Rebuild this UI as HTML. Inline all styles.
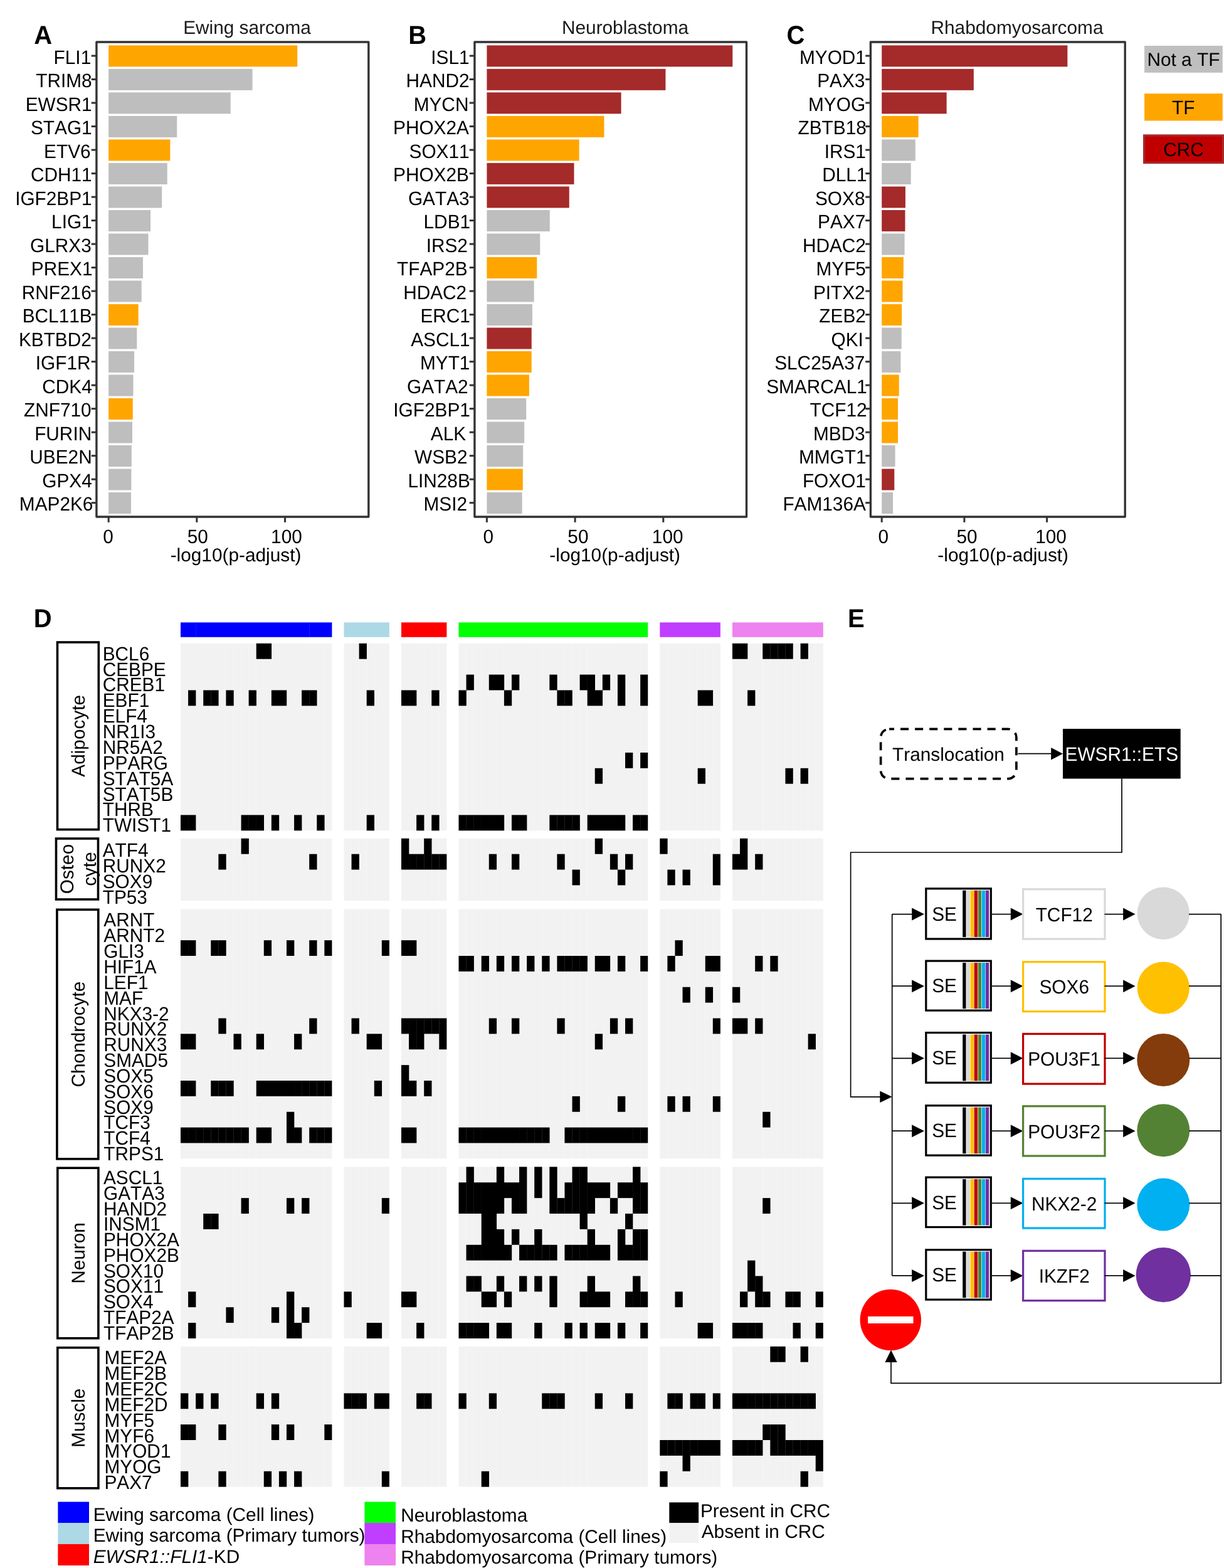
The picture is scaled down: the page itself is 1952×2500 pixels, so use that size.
<!DOCTYPE html>
<html lang="en">
<head>
<meta charset="utf-8">
<title>Figure: CRC transcription factors in Ewing sarcoma, neuroblastoma and rhabdomyosarcoma</title>
<style>
html,body{margin:0;padding:0;background:#fff;}
body{width:1952px;height:2500px;overflow:hidden;}
svg{display:block;}
svg text{font-family:'Liberation Sans', Arial, Helvetica, sans-serif;font-size:29.8px;font-kerning:none;font-variant-ligatures:none;text-rendering:geometricPrecision;}
</style>
</head>
<body>
<svg width="1952" height="2500" viewBox="0 0 1952 2500" shape-rendering="auto">
<rect width="1952" height="2500" fill="#fff"/>
<g class="panel-A">
<text transform="translate(54.2 70.3) scale(1 1.038)" style="font-size:40px" font-weight="bold">A</text>
<text x="394" y="54.3" text-anchor="middle" fill="#1a1a1a">Ewing sarcoma</text>
<rect x="173.15" y="72.35" width="301.05" height="34" fill="#ffa500"/>
<line x1="145.7" y1="89" x2="153.9" y2="89" stroke="#333" stroke-width="3"/>
<text transform="translate(145.2 101.6) scale(1 1.038)" text-anchor="end">FLI1</text>
<rect x="173.15" y="109.86" width="229.44" height="34" fill="#bebebe"/>
<line x1="145.7" y1="126.51" x2="153.9" y2="126.51" stroke="#333" stroke-width="3"/>
<text transform="translate(146.7 139.11) scale(1 1.038)" text-anchor="end">TRIM8</text>
<rect x="173.15" y="147.37" width="194.6" height="34" fill="#bebebe"/>
<line x1="145.7" y1="164.02" x2="153.9" y2="164.02" stroke="#333" stroke-width="3"/>
<text transform="translate(146.7 176.62) scale(1 1.038)" text-anchor="end">EWSR1</text>
<rect x="173.15" y="184.88" width="109.05" height="34" fill="#bebebe"/>
<line x1="145.7" y1="201.53" x2="153.9" y2="201.53" stroke="#333" stroke-width="3"/>
<text transform="translate(146.7 214.13) scale(1 1.038)" text-anchor="end">STAG1</text>
<rect x="173.15" y="222.39" width="98.21" height="34" fill="#ffa500"/>
<line x1="145.7" y1="239.04" x2="153.9" y2="239.04" stroke="#333" stroke-width="3"/>
<text transform="translate(144.6 251.64) scale(1 1.038)" text-anchor="end">ETV6</text>
<rect x="173.15" y="259.9" width="93.56" height="34" fill="#bebebe"/>
<line x1="145.7" y1="276.55" x2="153.9" y2="276.55" stroke="#333" stroke-width="3"/>
<text transform="translate(146.7 289.15) scale(1 1.038)" text-anchor="end">CDH11</text>
<rect x="173.15" y="297.41" width="85.05" height="34" fill="#bebebe"/>
<line x1="145.7" y1="314.06" x2="153.9" y2="314.06" stroke="#333" stroke-width="3"/>
<text transform="translate(146.7 326.66) scale(1 1.038)" text-anchor="end">IGF2BP1</text>
<rect x="173.15" y="334.92" width="66.85" height="34" fill="#bebebe"/>
<line x1="145.7" y1="351.57" x2="153.9" y2="351.57" stroke="#333" stroke-width="3"/>
<text transform="translate(146.7 364.17) scale(1 1.038)" text-anchor="end">LIG1</text>
<rect x="173.15" y="372.43" width="63.37" height="34" fill="#bebebe"/>
<line x1="145.7" y1="389.08" x2="153.9" y2="389.08" stroke="#333" stroke-width="3"/>
<text transform="translate(145.8 401.68) scale(1 1.038)" text-anchor="end">GLRX3</text>
<rect x="173.15" y="409.94" width="54.85" height="34" fill="#bebebe"/>
<line x1="145.7" y1="426.59" x2="153.9" y2="426.59" stroke="#333" stroke-width="3"/>
<text transform="translate(147.5 439.19) scale(1 1.038)" text-anchor="end">PREX1</text>
<rect x="173.15" y="447.45" width="52.53" height="34" fill="#bebebe"/>
<line x1="145.7" y1="464.1" x2="153.9" y2="464.1" stroke="#333" stroke-width="3"/>
<text transform="translate(145.7 476.7) scale(1 1.038)" text-anchor="end">RNF216</text>
<rect x="173.15" y="484.96" width="47.5" height="34" fill="#ffa500"/>
<line x1="145.7" y1="501.61" x2="153.9" y2="501.61" stroke="#333" stroke-width="3"/>
<text transform="translate(146.7 514.21) scale(1 1.038)" text-anchor="end">BCL11B</text>
<rect x="173.15" y="522.47" width="45.18" height="34" fill="#bebebe"/>
<line x1="145.7" y1="539.12" x2="153.9" y2="539.12" stroke="#333" stroke-width="3"/>
<text transform="translate(145.8 551.72) scale(1 1.038)" text-anchor="end">KBTBD2</text>
<rect x="173.15" y="559.98" width="40.92" height="34" fill="#bebebe"/>
<line x1="145.7" y1="576.63" x2="153.9" y2="576.63" stroke="#333" stroke-width="3"/>
<text transform="translate(144.5 589.23) scale(1 1.038)" text-anchor="end">IGF1R</text>
<rect x="173.15" y="597.49" width="39.37" height="34" fill="#bebebe"/>
<line x1="145.7" y1="614.14" x2="153.9" y2="614.14" stroke="#333" stroke-width="3"/>
<text transform="translate(146.7 626.74) scale(1 1.038)" text-anchor="end">CDK4</text>
<rect x="173.15" y="635" width="38.59" height="34" fill="#ffa500"/>
<line x1="145.7" y1="651.65" x2="153.9" y2="651.65" stroke="#333" stroke-width="3"/>
<text transform="translate(145.6 664.25) scale(1 1.038)" text-anchor="end">ZNF710</text>
<rect x="173.15" y="672.51" width="37.82" height="34" fill="#bebebe"/>
<line x1="145.7" y1="689.16" x2="153.9" y2="689.16" stroke="#333" stroke-width="3"/>
<text transform="translate(146.2 701.76) scale(1 1.038)" text-anchor="end">FURIN</text>
<rect x="173.15" y="710.02" width="36.66" height="34" fill="#bebebe"/>
<line x1="145.7" y1="726.67" x2="153.9" y2="726.67" stroke="#333" stroke-width="3"/>
<text transform="translate(146.7 739.27) scale(1 1.038)" text-anchor="end">UBE2N</text>
<rect x="173.15" y="747.53" width="36.27" height="34" fill="#bebebe"/>
<line x1="145.7" y1="764.18" x2="153.9" y2="764.18" stroke="#333" stroke-width="3"/>
<text transform="translate(146.7 776.78) scale(1 1.038)" text-anchor="end">GPX4</text>
<rect x="173.15" y="785.04" width="35.88" height="34" fill="#bebebe"/>
<line x1="145.7" y1="801.69" x2="153.9" y2="801.69" stroke="#333" stroke-width="3"/>
<text transform="translate(148.4 814.29) scale(1 1.038)" text-anchor="end">MAP2K6</text>
<rect x="153.9" y="67" width="433.9" height="757" fill="none" stroke="#333" stroke-width="3.4" stroke-linejoin="round"/>
<line x1="173.15" y1="824" x2="173.15" y2="832.8" stroke="#333" stroke-width="3"/>
<text transform="translate(172.65 865.5) scale(1 1.038)" text-anchor="middle">0</text>
<line x1="313.85" y1="824" x2="313.85" y2="832.8" stroke="#333" stroke-width="3"/>
<text transform="translate(315.25 865.5) scale(1 1.038)" text-anchor="middle">50</text>
<line x1="454.55" y1="824" x2="454.55" y2="832.8" stroke="#333" stroke-width="3"/>
<text transform="translate(456.95 865.5) scale(1 1.038)" text-anchor="middle">100</text>
<text x="376" y="895" text-anchor="middle">-log10(p-adjust)</text>
</g>
<g class="panel-B">
<text transform="translate(651.3 70.3) scale(1 1.038)" style="font-size:40px" font-weight="bold">B</text>
<text x="997" y="54.3" text-anchor="middle" fill="#1a1a1a">Neuroblastoma</text>
<rect x="776.4" y="72.35" width="391.87" height="34" fill="#a52a2a"/>
<line x1="748.7" y1="89" x2="756.9" y2="89" stroke="#333" stroke-width="3"/>
<text transform="translate(748.6 101.6) scale(1 1.038)" text-anchor="end">ISL1</text>
<rect x="776.4" y="109.86" width="285.03" height="34" fill="#a52a2a"/>
<line x1="748.7" y1="126.51" x2="756.9" y2="126.51" stroke="#333" stroke-width="3"/>
<text transform="translate(748.6 139.11) scale(1 1.038)" text-anchor="end">HAND2</text>
<rect x="776.4" y="147.37" width="214.19" height="34" fill="#a52a2a"/>
<line x1="748.7" y1="164.02" x2="756.9" y2="164.02" stroke="#333" stroke-width="3"/>
<text transform="translate(747.4 176.62) scale(1 1.038)" text-anchor="end">MYCN</text>
<rect x="776.4" y="184.88" width="187.09" height="34" fill="#ffa500"/>
<line x1="748.7" y1="201.53" x2="756.9" y2="201.53" stroke="#333" stroke-width="3"/>
<text transform="translate(747.9 214.13) scale(1 1.038)" text-anchor="end">PHOX2A</text>
<rect x="776.4" y="222.39" width="147.22" height="34" fill="#ffa500"/>
<line x1="748.7" y1="239.04" x2="756.9" y2="239.04" stroke="#333" stroke-width="3"/>
<text transform="translate(748.6 251.64) scale(1 1.038)" text-anchor="end">SOX11</text>
<rect x="776.4" y="259.9" width="139.09" height="34" fill="#a52a2a"/>
<line x1="748.7" y1="276.55" x2="756.9" y2="276.55" stroke="#333" stroke-width="3"/>
<text transform="translate(747.9 289.15) scale(1 1.038)" text-anchor="end">PHOX2B</text>
<rect x="776.4" y="297.41" width="131.35" height="34" fill="#a52a2a"/>
<line x1="748.7" y1="314.06" x2="756.9" y2="314.06" stroke="#333" stroke-width="3"/>
<text transform="translate(748.6 326.66) scale(1 1.038)" text-anchor="end">GATA3</text>
<rect x="776.4" y="334.92" width="100.38" height="34" fill="#bebebe"/>
<line x1="748.7" y1="351.57" x2="756.9" y2="351.57" stroke="#333" stroke-width="3"/>
<text transform="translate(750.1 364.17) scale(1 1.038)" text-anchor="end">LDB1</text>
<rect x="776.4" y="372.43" width="84.89" height="34" fill="#bebebe"/>
<line x1="748.7" y1="389.08" x2="756.9" y2="389.08" stroke="#333" stroke-width="3"/>
<text transform="translate(745.9 401.68) scale(1 1.038)" text-anchor="end">IRS2</text>
<rect x="776.4" y="409.94" width="79.86" height="34" fill="#ffa500"/>
<line x1="748.7" y1="426.59" x2="756.9" y2="426.59" stroke="#333" stroke-width="3"/>
<text transform="translate(745.7 439.19) scale(1 1.038)" text-anchor="end">TFAP2B</text>
<rect x="776.4" y="447.45" width="75.22" height="34" fill="#bebebe"/>
<line x1="748.7" y1="464.1" x2="756.9" y2="464.1" stroke="#333" stroke-width="3"/>
<text transform="translate(744.2 476.7) scale(1 1.038)" text-anchor="end">HDAC2</text>
<rect x="776.4" y="484.96" width="72.51" height="34" fill="#bebebe"/>
<line x1="748.7" y1="501.61" x2="756.9" y2="501.61" stroke="#333" stroke-width="3"/>
<text transform="translate(749.9 514.21) scale(1 1.038)" text-anchor="end">ERC1</text>
<rect x="776.4" y="522.47" width="71.35" height="34" fill="#a52a2a"/>
<line x1="748.7" y1="539.12" x2="756.9" y2="539.12" stroke="#333" stroke-width="3"/>
<text transform="translate(749.6 551.72) scale(1 1.038)" text-anchor="end">ASCL1</text>
<rect x="776.4" y="559.98" width="71.35" height="34" fill="#ffa500"/>
<line x1="748.7" y1="576.63" x2="756.9" y2="576.63" stroke="#333" stroke-width="3"/>
<text transform="translate(749.4 589.23) scale(1 1.038)" text-anchor="end">MYT1</text>
<rect x="776.4" y="597.49" width="67.47" height="34" fill="#ffa500"/>
<line x1="748.7" y1="614.14" x2="756.9" y2="614.14" stroke="#333" stroke-width="3"/>
<text transform="translate(746.7 626.74) scale(1 1.038)" text-anchor="end">GATA2</text>
<rect x="776.4" y="635" width="62.83" height="34" fill="#bebebe"/>
<line x1="748.7" y1="651.65" x2="756.9" y2="651.65" stroke="#333" stroke-width="3"/>
<text transform="translate(749.9 664.25) scale(1 1.038)" text-anchor="end">IGF2BP1</text>
<rect x="776.4" y="672.51" width="59.73" height="34" fill="#bebebe"/>
<line x1="748.7" y1="689.16" x2="756.9" y2="689.16" stroke="#333" stroke-width="3"/>
<text transform="translate(743.2 701.76) scale(1 1.038)" text-anchor="end">ALK</text>
<rect x="776.4" y="710.02" width="57.8" height="34" fill="#bebebe"/>
<line x1="748.7" y1="726.67" x2="756.9" y2="726.67" stroke="#333" stroke-width="3"/>
<text transform="translate(745.5 739.27) scale(1 1.038)" text-anchor="end">WSB2</text>
<rect x="776.4" y="747.53" width="57.41" height="34" fill="#ffa500"/>
<line x1="748.7" y1="764.18" x2="756.9" y2="764.18" stroke="#333" stroke-width="3"/>
<text transform="translate(749.8 776.78) scale(1 1.038)" text-anchor="end">LIN28B</text>
<rect x="776.4" y="785.04" width="56.25" height="34" fill="#bebebe"/>
<line x1="748.7" y1="801.69" x2="756.9" y2="801.69" stroke="#333" stroke-width="3"/>
<text transform="translate(745.1 814.29) scale(1 1.038)" text-anchor="end">MSI2</text>
<rect x="756.9" y="67" width="433.6" height="757" fill="none" stroke="#333" stroke-width="3.4" stroke-linejoin="round"/>
<line x1="776.4" y1="824" x2="776.4" y2="832.8" stroke="#333" stroke-width="3"/>
<text transform="translate(778.7 865.5) scale(1 1.038)" text-anchor="middle">0</text>
<line x1="917.1" y1="824" x2="917.1" y2="832.8" stroke="#333" stroke-width="3"/>
<text transform="translate(921.9 865.5) scale(1 1.038)" text-anchor="middle">50</text>
<line x1="1057.8" y1="824" x2="1057.8" y2="832.8" stroke="#333" stroke-width="3"/>
<text transform="translate(1064.7 865.5) scale(1 1.038)" text-anchor="middle">100</text>
<text x="980.7" y="895" text-anchor="middle">-log10(p-adjust)</text>
</g>
<g class="panel-C">
<text transform="translate(1254.5 70.3) scale(1 1.038)" style="font-size:40px" font-weight="bold">C</text>
<text x="1622" y="54.3" text-anchor="middle" fill="#1a1a1a">Rhabdomyosarcoma</text>
<rect x="1406.2" y="72.35" width="296.16" height="34" fill="#a52a2a"/>
<line x1="1380.2" y1="89" x2="1388.4" y2="89" stroke="#333" stroke-width="3"/>
<text transform="translate(1380.9 101.6) scale(1 1.038)" text-anchor="end">MYOD1</text>
<rect x="1406.2" y="109.86" width="146.64" height="34" fill="#a52a2a"/>
<line x1="1380.2" y1="126.51" x2="1388.4" y2="126.51" stroke="#333" stroke-width="3"/>
<text transform="translate(1379.4 139.11) scale(1 1.038)" text-anchor="end">PAX3</text>
<rect x="1406.2" y="147.37" width="103.42" height="34" fill="#a52a2a"/>
<line x1="1380.2" y1="164.02" x2="1388.4" y2="164.02" stroke="#333" stroke-width="3"/>
<text transform="translate(1380.1 176.62) scale(1 1.038)" text-anchor="end">MYOG</text>
<rect x="1406.2" y="184.88" width="58.43" height="34" fill="#ffa500"/>
<line x1="1380.2" y1="201.53" x2="1388.4" y2="201.53" stroke="#333" stroke-width="3"/>
<text transform="translate(1381.8 214.13) scale(1 1.038)" text-anchor="end">ZBTB18</text>
<rect x="1406.2" y="222.39" width="53.58" height="34" fill="#bebebe"/>
<line x1="1380.2" y1="239.04" x2="1388.4" y2="239.04" stroke="#333" stroke-width="3"/>
<text transform="translate(1380.9 251.64) scale(1 1.038)" text-anchor="end">IRS1</text>
<rect x="1406.2" y="259.9" width="46.52" height="34" fill="#bebebe"/>
<line x1="1380.2" y1="276.55" x2="1388.4" y2="276.55" stroke="#333" stroke-width="3"/>
<text transform="translate(1382.5 289.15) scale(1 1.038)" text-anchor="end">DLL1</text>
<rect x="1406.2" y="297.41" width="37.7" height="34" fill="#a52a2a"/>
<line x1="1380.2" y1="314.06" x2="1388.4" y2="314.06" stroke="#333" stroke-width="3"/>
<text transform="translate(1379.5 326.66) scale(1 1.038)" text-anchor="end">SOX8</text>
<rect x="1406.2" y="334.92" width="37.26" height="34" fill="#a52a2a"/>
<line x1="1380.2" y1="351.57" x2="1388.4" y2="351.57" stroke="#333" stroke-width="3"/>
<text transform="translate(1380.3 364.17) scale(1 1.038)" text-anchor="end">PAX7</text>
<rect x="1406.2" y="372.43" width="36.38" height="34" fill="#bebebe"/>
<line x1="1380.2" y1="389.08" x2="1388.4" y2="389.08" stroke="#333" stroke-width="3"/>
<text transform="translate(1380.9 401.68) scale(1 1.038)" text-anchor="end">HDAC2</text>
<rect x="1406.2" y="409.94" width="34.62" height="34" fill="#ffa500"/>
<line x1="1380.2" y1="426.59" x2="1388.4" y2="426.59" stroke="#333" stroke-width="3"/>
<text transform="translate(1380.9 439.19) scale(1 1.038)" text-anchor="end">MYF5</text>
<rect x="1406.2" y="447.45" width="33.29" height="34" fill="#ffa500"/>
<line x1="1380.2" y1="464.1" x2="1388.4" y2="464.1" stroke="#333" stroke-width="3"/>
<text transform="translate(1379.7 476.7) scale(1 1.038)" text-anchor="end">PITX2</text>
<rect x="1406.2" y="484.96" width="31.97" height="34" fill="#ffa500"/>
<line x1="1380.2" y1="501.61" x2="1388.4" y2="501.61" stroke="#333" stroke-width="3"/>
<text transform="translate(1380.9 514.21) scale(1 1.038)" text-anchor="end">ZEB2</text>
<rect x="1406.2" y="522.47" width="31.53" height="34" fill="#bebebe"/>
<line x1="1380.2" y1="539.12" x2="1388.4" y2="539.12" stroke="#333" stroke-width="3"/>
<text transform="translate(1376.9 551.72) scale(1 1.038)" text-anchor="end">QKI</text>
<rect x="1406.2" y="559.98" width="30.2" height="34" fill="#bebebe"/>
<line x1="1380.2" y1="576.63" x2="1388.4" y2="576.63" stroke="#333" stroke-width="3"/>
<text transform="translate(1379.3 589.23) scale(1 1.038)" text-anchor="end">SLC25A37</text>
<rect x="1406.2" y="597.49" width="27.56" height="34" fill="#ffa500"/>
<line x1="1380.2" y1="614.14" x2="1388.4" y2="614.14" stroke="#333" stroke-width="3"/>
<text transform="translate(1382.8 626.74) scale(1 1.038)" text-anchor="end">SMARCAL1</text>
<rect x="1406.2" y="635" width="25.79" height="34" fill="#ffa500"/>
<line x1="1380.2" y1="651.65" x2="1388.4" y2="651.65" stroke="#333" stroke-width="3"/>
<text transform="translate(1382.7 664.25) scale(1 1.038)" text-anchor="end">TCF12</text>
<rect x="1406.2" y="672.51" width="25.79" height="34" fill="#ffa500"/>
<line x1="1380.2" y1="689.16" x2="1388.4" y2="689.16" stroke="#333" stroke-width="3"/>
<text transform="translate(1379.7 701.76) scale(1 1.038)" text-anchor="end">MBD3</text>
<rect x="1406.2" y="710.02" width="21.38" height="34" fill="#bebebe"/>
<line x1="1380.2" y1="726.67" x2="1388.4" y2="726.67" stroke="#333" stroke-width="3"/>
<text transform="translate(1381.5 739.27) scale(1 1.038)" text-anchor="end">MMGT1</text>
<rect x="1406.2" y="747.53" width="20.06" height="34" fill="#a52a2a"/>
<line x1="1380.2" y1="764.18" x2="1388.4" y2="764.18" stroke="#333" stroke-width="3"/>
<text transform="translate(1380.9 776.78) scale(1 1.038)" text-anchor="end">FOXO1</text>
<rect x="1406.2" y="785.04" width="17.86" height="34" fill="#bebebe"/>
<line x1="1380.2" y1="801.69" x2="1388.4" y2="801.69" stroke="#333" stroke-width="3"/>
<text transform="translate(1380.9 814.29) scale(1 1.038)" text-anchor="end">FAM136A</text>
<rect x="1388.4" y="67" width="405.8" height="757" fill="none" stroke="#333" stroke-width="3.4" stroke-linejoin="round"/>
<line x1="1406.2" y1="824" x2="1406.2" y2="832.8" stroke="#333" stroke-width="3"/>
<text transform="translate(1408.7 865.5) scale(1 1.038)" text-anchor="middle">0</text>
<line x1="1537.9" y1="824" x2="1537.9" y2="832.8" stroke="#333" stroke-width="3"/>
<text transform="translate(1542.1 865.5) scale(1 1.038)" text-anchor="middle">50</text>
<line x1="1669.6" y1="824" x2="1669.6" y2="832.8" stroke="#333" stroke-width="3"/>
<text transform="translate(1676 865.5) scale(1 1.038)" text-anchor="middle">100</text>
<text x="1599.7" y="895" text-anchor="middle">-log10(p-adjust)</text>
</g>
<g class="legend-tf">
<rect x="1825.07" y="72.96" width="124.7" height="42.84" fill="#bfbfbf"/>
<text x="1887.4" y="105.3" text-anchor="middle">Not a TF</text>
<rect x="1825.07" y="149.2" width="124.7" height="43.3" fill="#ffa500"/>
<text transform="translate(1887.2 181.85) scale(1 1.038)" text-anchor="middle">TF</text>
<rect x="1824.6" y="215.9" width="125.8" height="43.6" fill="#c00000" stroke="#a52a2a" stroke-width="3.2"/>
<text transform="translate(1887.6 249) scale(1 1.038)" text-anchor="middle">CRC</text>
</g>
<g class="heatmap">
<text transform="translate(53.8 1000.4) scale(1 1.038)" style="font-size:40px" font-weight="bold">D</text>
<rect x="288" y="992.4" width="24.39" height="23.4" fill="#0000ff"/>
<rect x="312.14" y="992.4" width="181.3" height="23.4" fill="#0000ff"/>
<rect x="493.19" y="992.4" width="36.21" height="23.4" fill="#0000ff"/>
<rect x="548.48" y="992.4" width="72.42" height="23.4" fill="#add8e6"/>
<rect x="639.98" y="992.4" width="72.42" height="23.4" fill="#ff0000"/>
<rect x="731.48" y="992.4" width="253.72" height="23.4" fill="#00ff00"/>
<rect x="984.95" y="992.4" width="48.28" height="23.4" fill="#00ff00"/>
<rect x="1052.31" y="992.4" width="72.67" height="23.4" fill="#bf3eff"/>
<rect x="1124.73" y="992.4" width="24.14" height="23.4" fill="#bf3eff"/>
<rect x="1167.95" y="992.4" width="133.02" height="23.4" fill="#ee82ee"/>
<rect x="1300.72" y="992.4" width="12.07" height="23.4" fill="#ee82ee"/>
<rect x="288" y="1025.85" width="12.07" height="298.44" fill="#f2f2f2"/>
<rect x="300.07" y="1025.85" width="12.07" height="298.44" fill="#f2f2f2"/>
<rect x="312.14" y="1025.85" width="12.07" height="298.44" fill="#f2f2f2"/>
<rect x="324.21" y="1025.85" width="12.07" height="298.44" fill="#f2f2f2"/>
<rect x="336.28" y="1025.85" width="12.07" height="298.44" fill="#f2f2f2"/>
<rect x="348.35" y="1025.85" width="12.07" height="298.44" fill="#f2f2f2"/>
<rect x="360.42" y="1025.85" width="12.07" height="298.44" fill="#f2f2f2"/>
<rect x="372.49" y="1025.85" width="12.07" height="298.44" fill="#f2f2f2"/>
<rect x="384.56" y="1025.85" width="12.07" height="298.44" fill="#f2f2f2"/>
<rect x="396.63" y="1025.85" width="12.07" height="298.44" fill="#f2f2f2"/>
<rect x="408.7" y="1025.85" width="12.07" height="298.44" fill="#f2f2f2"/>
<rect x="420.77" y="1025.85" width="12.07" height="298.44" fill="#f2f2f2"/>
<rect x="432.84" y="1025.85" width="12.07" height="298.44" fill="#f2f2f2"/>
<rect x="444.91" y="1025.85" width="12.07" height="298.44" fill="#f2f2f2"/>
<rect x="456.98" y="1025.85" width="12.07" height="298.44" fill="#f2f2f2"/>
<rect x="469.05" y="1025.85" width="12.07" height="298.44" fill="#f2f2f2"/>
<rect x="481.12" y="1025.85" width="12.07" height="298.44" fill="#f2f2f2"/>
<rect x="493.19" y="1025.85" width="12.07" height="298.44" fill="#f2f2f2"/>
<rect x="505.26" y="1025.85" width="12.07" height="298.44" fill="#f2f2f2"/>
<rect x="517.33" y="1025.85" width="12.07" height="298.44" fill="#f2f2f2"/>
<rect x="548.48" y="1025.85" width="12.07" height="298.44" fill="#f2f2f2"/>
<rect x="560.55" y="1025.85" width="12.07" height="298.44" fill="#f2f2f2"/>
<rect x="572.62" y="1025.85" width="12.07" height="298.44" fill="#f2f2f2"/>
<rect x="584.69" y="1025.85" width="12.07" height="298.44" fill="#f2f2f2"/>
<rect x="596.76" y="1025.85" width="12.07" height="298.44" fill="#f2f2f2"/>
<rect x="608.83" y="1025.85" width="12.07" height="298.44" fill="#f2f2f2"/>
<rect x="639.98" y="1025.85" width="12.07" height="298.44" fill="#f2f2f2"/>
<rect x="652.05" y="1025.85" width="12.07" height="298.44" fill="#f2f2f2"/>
<rect x="664.12" y="1025.85" width="12.07" height="298.44" fill="#f2f2f2"/>
<rect x="676.19" y="1025.85" width="12.07" height="298.44" fill="#f2f2f2"/>
<rect x="688.26" y="1025.85" width="12.07" height="298.44" fill="#f2f2f2"/>
<rect x="700.33" y="1025.85" width="12.07" height="298.44" fill="#f2f2f2"/>
<rect x="731.48" y="1025.85" width="12.07" height="298.44" fill="#f2f2f2"/>
<rect x="743.55" y="1025.85" width="12.07" height="298.44" fill="#f2f2f2"/>
<rect x="755.62" y="1025.85" width="12.07" height="298.44" fill="#f2f2f2"/>
<rect x="767.69" y="1025.85" width="12.07" height="298.44" fill="#f2f2f2"/>
<rect x="779.76" y="1025.85" width="12.07" height="298.44" fill="#f2f2f2"/>
<rect x="791.83" y="1025.85" width="12.07" height="298.44" fill="#f2f2f2"/>
<rect x="803.9" y="1025.85" width="12.07" height="298.44" fill="#f2f2f2"/>
<rect x="815.97" y="1025.85" width="12.07" height="298.44" fill="#f2f2f2"/>
<rect x="828.04" y="1025.85" width="12.07" height="298.44" fill="#f2f2f2"/>
<rect x="840.11" y="1025.85" width="12.07" height="298.44" fill="#f2f2f2"/>
<rect x="852.18" y="1025.85" width="12.07" height="298.44" fill="#f2f2f2"/>
<rect x="864.25" y="1025.85" width="12.07" height="298.44" fill="#f2f2f2"/>
<rect x="876.32" y="1025.85" width="12.07" height="298.44" fill="#f2f2f2"/>
<rect x="888.39" y="1025.85" width="12.07" height="298.44" fill="#f2f2f2"/>
<rect x="900.46" y="1025.85" width="12.07" height="298.44" fill="#f2f2f2"/>
<rect x="912.53" y="1025.85" width="12.07" height="298.44" fill="#f2f2f2"/>
<rect x="924.6" y="1025.85" width="12.07" height="298.44" fill="#f2f2f2"/>
<rect x="936.67" y="1025.85" width="12.07" height="298.44" fill="#f2f2f2"/>
<rect x="948.74" y="1025.85" width="12.07" height="298.44" fill="#f2f2f2"/>
<rect x="960.81" y="1025.85" width="12.07" height="298.44" fill="#f2f2f2"/>
<rect x="972.88" y="1025.85" width="12.07" height="298.44" fill="#f2f2f2"/>
<rect x="984.95" y="1025.85" width="12.07" height="298.44" fill="#f2f2f2"/>
<rect x="997.02" y="1025.85" width="12.07" height="298.44" fill="#f2f2f2"/>
<rect x="1009.09" y="1025.85" width="12.07" height="298.44" fill="#f2f2f2"/>
<rect x="1021.16" y="1025.85" width="12.07" height="298.44" fill="#f2f2f2"/>
<rect x="1052.31" y="1025.85" width="12.07" height="298.44" fill="#f2f2f2"/>
<rect x="1064.38" y="1025.85" width="12.07" height="298.44" fill="#f2f2f2"/>
<rect x="1076.45" y="1025.85" width="12.07" height="298.44" fill="#f2f2f2"/>
<rect x="1088.52" y="1025.85" width="12.07" height="298.44" fill="#f2f2f2"/>
<rect x="1100.59" y="1025.85" width="12.07" height="298.44" fill="#f2f2f2"/>
<rect x="1112.66" y="1025.85" width="12.07" height="298.44" fill="#f2f2f2"/>
<rect x="1124.73" y="1025.85" width="12.07" height="298.44" fill="#f2f2f2"/>
<rect x="1136.8" y="1025.85" width="12.07" height="298.44" fill="#f2f2f2"/>
<rect x="1167.95" y="1025.85" width="12.07" height="298.44" fill="#f2f2f2"/>
<rect x="1180.02" y="1025.85" width="12.07" height="298.44" fill="#f2f2f2"/>
<rect x="1192.09" y="1025.85" width="12.07" height="298.44" fill="#f2f2f2"/>
<rect x="1204.16" y="1025.85" width="12.07" height="298.44" fill="#f2f2f2"/>
<rect x="1216.23" y="1025.85" width="12.07" height="298.44" fill="#f2f2f2"/>
<rect x="1228.3" y="1025.85" width="12.07" height="298.44" fill="#f2f2f2"/>
<rect x="1240.37" y="1025.85" width="12.07" height="298.44" fill="#f2f2f2"/>
<rect x="1252.44" y="1025.85" width="12.07" height="298.44" fill="#f2f2f2"/>
<rect x="1264.51" y="1025.85" width="12.07" height="298.44" fill="#f2f2f2"/>
<rect x="1276.58" y="1025.85" width="12.07" height="298.44" fill="#f2f2f2"/>
<rect x="1288.65" y="1025.85" width="12.07" height="298.44" fill="#f2f2f2"/>
<rect x="1300.72" y="1025.85" width="12.07" height="298.44" fill="#f2f2f2"/>
<rect x="288" y="1299.42" width="12.32" height="24.87" fill="#000"/>
<rect x="300.07" y="1100.46" width="12.32" height="24.87" fill="#000"/>
<rect x="300.07" y="1299.42" width="12.32" height="24.87" fill="#000"/>
<rect x="324.21" y="1100.46" width="12.32" height="24.87" fill="#000"/>
<rect x="336.28" y="1100.46" width="12.32" height="24.87" fill="#000"/>
<rect x="360.42" y="1100.46" width="12.32" height="24.87" fill="#000"/>
<rect x="384.56" y="1299.42" width="12.32" height="24.87" fill="#000"/>
<rect x="396.63" y="1100.46" width="12.32" height="24.87" fill="#000"/>
<rect x="396.63" y="1299.42" width="12.32" height="24.87" fill="#000"/>
<rect x="408.7" y="1025.85" width="12.32" height="24.87" fill="#000"/>
<rect x="408.7" y="1299.42" width="12.32" height="24.87" fill="#000"/>
<rect x="420.77" y="1025.85" width="12.32" height="24.87" fill="#000"/>
<rect x="432.84" y="1100.46" width="12.32" height="24.87" fill="#000"/>
<rect x="432.84" y="1299.42" width="12.32" height="24.87" fill="#000"/>
<rect x="444.91" y="1100.46" width="12.32" height="24.87" fill="#000"/>
<rect x="469.05" y="1299.42" width="12.32" height="24.87" fill="#000"/>
<rect x="481.12" y="1100.46" width="12.32" height="24.87" fill="#000"/>
<rect x="493.19" y="1100.46" width="12.32" height="24.87" fill="#000"/>
<rect x="505.26" y="1299.42" width="12.32" height="24.87" fill="#000"/>
<rect x="572.62" y="1025.85" width="12.32" height="24.87" fill="#000"/>
<rect x="584.69" y="1100.46" width="12.32" height="24.87" fill="#000"/>
<rect x="584.69" y="1299.42" width="12.32" height="24.87" fill="#000"/>
<rect x="639.98" y="1100.46" width="12.32" height="24.87" fill="#000"/>
<rect x="652.05" y="1100.46" width="12.32" height="24.87" fill="#000"/>
<rect x="664.12" y="1299.42" width="12.32" height="24.87" fill="#000"/>
<rect x="688.26" y="1100.46" width="12.32" height="24.87" fill="#000"/>
<rect x="688.26" y="1299.42" width="12.32" height="24.87" fill="#000"/>
<rect x="731.48" y="1100.46" width="12.32" height="24.87" fill="#000"/>
<rect x="731.48" y="1299.42" width="12.32" height="24.87" fill="#000"/>
<rect x="743.55" y="1075.59" width="12.32" height="24.87" fill="#000"/>
<rect x="743.55" y="1299.42" width="12.32" height="24.87" fill="#000"/>
<rect x="755.62" y="1299.42" width="12.32" height="24.87" fill="#000"/>
<rect x="767.69" y="1299.42" width="12.32" height="24.87" fill="#000"/>
<rect x="779.76" y="1075.59" width="12.32" height="24.87" fill="#000"/>
<rect x="779.76" y="1299.42" width="12.32" height="24.87" fill="#000"/>
<rect x="791.83" y="1075.59" width="12.32" height="24.87" fill="#000"/>
<rect x="791.83" y="1299.42" width="12.32" height="24.87" fill="#000"/>
<rect x="803.9" y="1100.46" width="12.32" height="24.87" fill="#000"/>
<rect x="815.97" y="1075.59" width="12.32" height="24.87" fill="#000"/>
<rect x="815.97" y="1299.42" width="12.32" height="24.87" fill="#000"/>
<rect x="828.04" y="1299.42" width="12.32" height="24.87" fill="#000"/>
<rect x="876.32" y="1075.59" width="12.32" height="24.87" fill="#000"/>
<rect x="876.32" y="1299.42" width="12.32" height="24.87" fill="#000"/>
<rect x="888.39" y="1100.46" width="12.32" height="24.87" fill="#000"/>
<rect x="888.39" y="1299.42" width="12.32" height="24.87" fill="#000"/>
<rect x="900.46" y="1100.46" width="12.32" height="24.87" fill="#000"/>
<rect x="900.46" y="1299.42" width="12.32" height="24.87" fill="#000"/>
<rect x="912.53" y="1299.42" width="12.32" height="24.87" fill="#000"/>
<rect x="924.6" y="1075.59" width="12.32" height="24.87" fill="#000"/>
<rect x="936.67" y="1075.59" width="12.32" height="49.74" fill="#000"/>
<rect x="936.67" y="1299.42" width="12.32" height="24.87" fill="#000"/>
<rect x="948.74" y="1100.46" width="12.32" height="24.87" fill="#000"/>
<rect x="948.74" y="1224.81" width="12.32" height="24.87" fill="#000"/>
<rect x="948.74" y="1299.42" width="12.32" height="24.87" fill="#000"/>
<rect x="960.81" y="1075.59" width="12.32" height="24.87" fill="#000"/>
<rect x="960.81" y="1299.42" width="12.32" height="24.87" fill="#000"/>
<rect x="972.88" y="1299.42" width="12.32" height="24.87" fill="#000"/>
<rect x="984.95" y="1075.59" width="12.32" height="49.74" fill="#000"/>
<rect x="984.95" y="1299.42" width="12.32" height="24.87" fill="#000"/>
<rect x="997.02" y="1199.94" width="12.32" height="24.87" fill="#000"/>
<rect x="1009.09" y="1299.42" width="12.32" height="24.87" fill="#000"/>
<rect x="1021.16" y="1075.59" width="12.07" height="49.74" fill="#000"/>
<rect x="1021.16" y="1199.94" width="12.07" height="24.87" fill="#000"/>
<rect x="1021.16" y="1299.42" width="12.07" height="24.87" fill="#000"/>
<rect x="1112.66" y="1100.46" width="12.32" height="24.87" fill="#000"/>
<rect x="1112.66" y="1224.81" width="12.32" height="24.87" fill="#000"/>
<rect x="1124.73" y="1100.46" width="12.32" height="24.87" fill="#000"/>
<rect x="1167.95" y="1025.85" width="12.32" height="24.87" fill="#000"/>
<rect x="1180.02" y="1025.85" width="12.32" height="24.87" fill="#000"/>
<rect x="1192.09" y="1100.46" width="12.32" height="24.87" fill="#000"/>
<rect x="1216.23" y="1025.85" width="12.32" height="24.87" fill="#000"/>
<rect x="1228.3" y="1025.85" width="12.32" height="24.87" fill="#000"/>
<rect x="1240.37" y="1025.85" width="12.32" height="24.87" fill="#000"/>
<rect x="1252.44" y="1025.85" width="12.32" height="24.87" fill="#000"/>
<rect x="1252.44" y="1224.81" width="12.32" height="24.87" fill="#000"/>
<rect x="1276.58" y="1025.85" width="12.32" height="24.87" fill="#000"/>
<rect x="1276.58" y="1224.81" width="12.32" height="24.87" fill="#000"/>
<text transform="translate(163.7 1052.7) scale(1 1.038)">BCL6</text>
<text transform="translate(163.7 1077.57) scale(1 1.038)">CEBPE</text>
<text transform="translate(163.7 1102.44) scale(1 1.038)">CREB1</text>
<text transform="translate(163.7 1127.31) scale(1 1.038)">EBF1</text>
<text transform="translate(163.7 1152.18) scale(1 1.038)">ELF4</text>
<text transform="translate(163.7 1177.05) scale(1 1.038)">NR1I3</text>
<text transform="translate(163.7 1201.92) scale(1 1.038)">NR5A2</text>
<text transform="translate(163.7 1226.79) scale(1 1.038)">PPARG</text>
<text transform="translate(163.7 1251.66) scale(1 1.038)">STAT5A</text>
<text transform="translate(163.7 1276.53) scale(1 1.038)">STAT5B</text>
<text transform="translate(163.7 1301.4) scale(1 1.038)">THRB</text>
<text transform="translate(163.7 1326.27) scale(1 1.038)">TWIST1</text>
<rect x="91.5" y="1024" width="65.8" height="298.6" fill="none" stroke="#000" stroke-width="3.6"/>
<text transform="translate(135 1173.3) rotate(-90)" text-anchor="middle">Adipocyte</text>
<rect x="288" y="1336.8" width="12.07" height="99.48" fill="#f2f2f2"/>
<rect x="300.07" y="1336.8" width="12.07" height="99.48" fill="#f2f2f2"/>
<rect x="312.14" y="1336.8" width="12.07" height="99.48" fill="#f2f2f2"/>
<rect x="324.21" y="1336.8" width="12.07" height="99.48" fill="#f2f2f2"/>
<rect x="336.28" y="1336.8" width="12.07" height="99.48" fill="#f2f2f2"/>
<rect x="348.35" y="1336.8" width="12.07" height="99.48" fill="#f2f2f2"/>
<rect x="360.42" y="1336.8" width="12.07" height="99.48" fill="#f2f2f2"/>
<rect x="372.49" y="1336.8" width="12.07" height="99.48" fill="#f2f2f2"/>
<rect x="384.56" y="1336.8" width="12.07" height="99.48" fill="#f2f2f2"/>
<rect x="396.63" y="1336.8" width="12.07" height="99.48" fill="#f2f2f2"/>
<rect x="408.7" y="1336.8" width="12.07" height="99.48" fill="#f2f2f2"/>
<rect x="420.77" y="1336.8" width="12.07" height="99.48" fill="#f2f2f2"/>
<rect x="432.84" y="1336.8" width="12.07" height="99.48" fill="#f2f2f2"/>
<rect x="444.91" y="1336.8" width="12.07" height="99.48" fill="#f2f2f2"/>
<rect x="456.98" y="1336.8" width="12.07" height="99.48" fill="#f2f2f2"/>
<rect x="469.05" y="1336.8" width="12.07" height="99.48" fill="#f2f2f2"/>
<rect x="481.12" y="1336.8" width="12.07" height="99.48" fill="#f2f2f2"/>
<rect x="493.19" y="1336.8" width="12.07" height="99.48" fill="#f2f2f2"/>
<rect x="505.26" y="1336.8" width="12.07" height="99.48" fill="#f2f2f2"/>
<rect x="517.33" y="1336.8" width="12.07" height="99.48" fill="#f2f2f2"/>
<rect x="548.48" y="1336.8" width="12.07" height="99.48" fill="#f2f2f2"/>
<rect x="560.55" y="1336.8" width="12.07" height="99.48" fill="#f2f2f2"/>
<rect x="572.62" y="1336.8" width="12.07" height="99.48" fill="#f2f2f2"/>
<rect x="584.69" y="1336.8" width="12.07" height="99.48" fill="#f2f2f2"/>
<rect x="596.76" y="1336.8" width="12.07" height="99.48" fill="#f2f2f2"/>
<rect x="608.83" y="1336.8" width="12.07" height="99.48" fill="#f2f2f2"/>
<rect x="639.98" y="1336.8" width="12.07" height="99.48" fill="#f2f2f2"/>
<rect x="652.05" y="1336.8" width="12.07" height="99.48" fill="#f2f2f2"/>
<rect x="664.12" y="1336.8" width="12.07" height="99.48" fill="#f2f2f2"/>
<rect x="676.19" y="1336.8" width="12.07" height="99.48" fill="#f2f2f2"/>
<rect x="688.26" y="1336.8" width="12.07" height="99.48" fill="#f2f2f2"/>
<rect x="700.33" y="1336.8" width="12.07" height="99.48" fill="#f2f2f2"/>
<rect x="731.48" y="1336.8" width="12.07" height="99.48" fill="#f2f2f2"/>
<rect x="743.55" y="1336.8" width="12.07" height="99.48" fill="#f2f2f2"/>
<rect x="755.62" y="1336.8" width="12.07" height="99.48" fill="#f2f2f2"/>
<rect x="767.69" y="1336.8" width="12.07" height="99.48" fill="#f2f2f2"/>
<rect x="779.76" y="1336.8" width="12.07" height="99.48" fill="#f2f2f2"/>
<rect x="791.83" y="1336.8" width="12.07" height="99.48" fill="#f2f2f2"/>
<rect x="803.9" y="1336.8" width="12.07" height="99.48" fill="#f2f2f2"/>
<rect x="815.97" y="1336.8" width="12.07" height="99.48" fill="#f2f2f2"/>
<rect x="828.04" y="1336.8" width="12.07" height="99.48" fill="#f2f2f2"/>
<rect x="840.11" y="1336.8" width="12.07" height="99.48" fill="#f2f2f2"/>
<rect x="852.18" y="1336.8" width="12.07" height="99.48" fill="#f2f2f2"/>
<rect x="864.25" y="1336.8" width="12.07" height="99.48" fill="#f2f2f2"/>
<rect x="876.32" y="1336.8" width="12.07" height="99.48" fill="#f2f2f2"/>
<rect x="888.39" y="1336.8" width="12.07" height="99.48" fill="#f2f2f2"/>
<rect x="900.46" y="1336.8" width="12.07" height="99.48" fill="#f2f2f2"/>
<rect x="912.53" y="1336.8" width="12.07" height="99.48" fill="#f2f2f2"/>
<rect x="924.6" y="1336.8" width="12.07" height="99.48" fill="#f2f2f2"/>
<rect x="936.67" y="1336.8" width="12.07" height="99.48" fill="#f2f2f2"/>
<rect x="948.74" y="1336.8" width="12.07" height="99.48" fill="#f2f2f2"/>
<rect x="960.81" y="1336.8" width="12.07" height="99.48" fill="#f2f2f2"/>
<rect x="972.88" y="1336.8" width="12.07" height="99.48" fill="#f2f2f2"/>
<rect x="984.95" y="1336.8" width="12.07" height="99.48" fill="#f2f2f2"/>
<rect x="997.02" y="1336.8" width="12.07" height="99.48" fill="#f2f2f2"/>
<rect x="1009.09" y="1336.8" width="12.07" height="99.48" fill="#f2f2f2"/>
<rect x="1021.16" y="1336.8" width="12.07" height="99.48" fill="#f2f2f2"/>
<rect x="1052.31" y="1336.8" width="12.07" height="99.48" fill="#f2f2f2"/>
<rect x="1064.38" y="1336.8" width="12.07" height="99.48" fill="#f2f2f2"/>
<rect x="1076.45" y="1336.8" width="12.07" height="99.48" fill="#f2f2f2"/>
<rect x="1088.52" y="1336.8" width="12.07" height="99.48" fill="#f2f2f2"/>
<rect x="1100.59" y="1336.8" width="12.07" height="99.48" fill="#f2f2f2"/>
<rect x="1112.66" y="1336.8" width="12.07" height="99.48" fill="#f2f2f2"/>
<rect x="1124.73" y="1336.8" width="12.07" height="99.48" fill="#f2f2f2"/>
<rect x="1136.8" y="1336.8" width="12.07" height="99.48" fill="#f2f2f2"/>
<rect x="1167.95" y="1336.8" width="12.07" height="99.48" fill="#f2f2f2"/>
<rect x="1180.02" y="1336.8" width="12.07" height="99.48" fill="#f2f2f2"/>
<rect x="1192.09" y="1336.8" width="12.07" height="99.48" fill="#f2f2f2"/>
<rect x="1204.16" y="1336.8" width="12.07" height="99.48" fill="#f2f2f2"/>
<rect x="1216.23" y="1336.8" width="12.07" height="99.48" fill="#f2f2f2"/>
<rect x="1228.3" y="1336.8" width="12.07" height="99.48" fill="#f2f2f2"/>
<rect x="1240.37" y="1336.8" width="12.07" height="99.48" fill="#f2f2f2"/>
<rect x="1252.44" y="1336.8" width="12.07" height="99.48" fill="#f2f2f2"/>
<rect x="1264.51" y="1336.8" width="12.07" height="99.48" fill="#f2f2f2"/>
<rect x="1276.58" y="1336.8" width="12.07" height="99.48" fill="#f2f2f2"/>
<rect x="1288.65" y="1336.8" width="12.07" height="99.48" fill="#f2f2f2"/>
<rect x="1300.72" y="1336.8" width="12.07" height="99.48" fill="#f2f2f2"/>
<rect x="348.35" y="1361.67" width="12.32" height="24.87" fill="#000"/>
<rect x="384.56" y="1336.8" width="12.32" height="24.87" fill="#000"/>
<rect x="493.19" y="1361.67" width="12.32" height="24.87" fill="#000"/>
<rect x="560.55" y="1361.67" width="12.32" height="24.87" fill="#000"/>
<rect x="639.98" y="1336.8" width="12.32" height="49.74" fill="#000"/>
<rect x="652.05" y="1361.67" width="12.32" height="24.87" fill="#000"/>
<rect x="664.12" y="1361.67" width="12.32" height="24.87" fill="#000"/>
<rect x="676.19" y="1336.8" width="12.32" height="49.74" fill="#000"/>
<rect x="688.26" y="1361.67" width="12.32" height="24.87" fill="#000"/>
<rect x="700.33" y="1361.67" width="12.07" height="24.87" fill="#000"/>
<rect x="779.76" y="1361.67" width="12.32" height="24.87" fill="#000"/>
<rect x="815.97" y="1361.67" width="12.32" height="24.87" fill="#000"/>
<rect x="888.39" y="1361.67" width="12.32" height="24.87" fill="#000"/>
<rect x="912.53" y="1386.54" width="12.32" height="24.87" fill="#000"/>
<rect x="948.74" y="1336.8" width="12.32" height="24.87" fill="#000"/>
<rect x="972.88" y="1361.67" width="12.32" height="24.87" fill="#000"/>
<rect x="984.95" y="1386.54" width="12.32" height="24.87" fill="#000"/>
<rect x="997.02" y="1361.67" width="12.32" height="24.87" fill="#000"/>
<rect x="1052.31" y="1336.8" width="12.32" height="24.87" fill="#000"/>
<rect x="1064.38" y="1386.54" width="12.32" height="24.87" fill="#000"/>
<rect x="1088.52" y="1386.54" width="12.32" height="24.87" fill="#000"/>
<rect x="1136.8" y="1361.67" width="12.07" height="49.74" fill="#000"/>
<rect x="1167.95" y="1361.67" width="12.32" height="24.87" fill="#000"/>
<rect x="1180.02" y="1336.8" width="12.32" height="49.74" fill="#000"/>
<rect x="1204.16" y="1361.67" width="12.32" height="24.87" fill="#000"/>
<text transform="translate(163.7 1365.9) scale(1 1.038)">ATF4</text>
<text transform="translate(163.7 1390.77) scale(1 1.038)">RUNX2</text>
<text transform="translate(163.7 1415.64) scale(1 1.038)">SOX9</text>
<text transform="translate(163.7 1440.51) scale(1 1.038)">TP53</text>
<rect x="89.5" y="1337" width="67" height="97" fill="none" stroke="#000" stroke-width="3.6"/>
<text transform="translate(117 1385.5) rotate(-90)" text-anchor="middle">Osteo</text>
<text transform="translate(152.5 1385.5) rotate(-90)" text-anchor="middle">cyte</text>
<rect x="288" y="1449.4" width="12.07" height="397.92" fill="#f2f2f2"/>
<rect x="300.07" y="1449.4" width="12.07" height="397.92" fill="#f2f2f2"/>
<rect x="312.14" y="1449.4" width="12.07" height="397.92" fill="#f2f2f2"/>
<rect x="324.21" y="1449.4" width="12.07" height="397.92" fill="#f2f2f2"/>
<rect x="336.28" y="1449.4" width="12.07" height="397.92" fill="#f2f2f2"/>
<rect x="348.35" y="1449.4" width="12.07" height="397.92" fill="#f2f2f2"/>
<rect x="360.42" y="1449.4" width="12.07" height="397.92" fill="#f2f2f2"/>
<rect x="372.49" y="1449.4" width="12.07" height="397.92" fill="#f2f2f2"/>
<rect x="384.56" y="1449.4" width="12.07" height="397.92" fill="#f2f2f2"/>
<rect x="396.63" y="1449.4" width="12.07" height="397.92" fill="#f2f2f2"/>
<rect x="408.7" y="1449.4" width="12.07" height="397.92" fill="#f2f2f2"/>
<rect x="420.77" y="1449.4" width="12.07" height="397.92" fill="#f2f2f2"/>
<rect x="432.84" y="1449.4" width="12.07" height="397.92" fill="#f2f2f2"/>
<rect x="444.91" y="1449.4" width="12.07" height="397.92" fill="#f2f2f2"/>
<rect x="456.98" y="1449.4" width="12.07" height="397.92" fill="#f2f2f2"/>
<rect x="469.05" y="1449.4" width="12.07" height="397.92" fill="#f2f2f2"/>
<rect x="481.12" y="1449.4" width="12.07" height="397.92" fill="#f2f2f2"/>
<rect x="493.19" y="1449.4" width="12.07" height="397.92" fill="#f2f2f2"/>
<rect x="505.26" y="1449.4" width="12.07" height="397.92" fill="#f2f2f2"/>
<rect x="517.33" y="1449.4" width="12.07" height="397.92" fill="#f2f2f2"/>
<rect x="548.48" y="1449.4" width="12.07" height="397.92" fill="#f2f2f2"/>
<rect x="560.55" y="1449.4" width="12.07" height="397.92" fill="#f2f2f2"/>
<rect x="572.62" y="1449.4" width="12.07" height="397.92" fill="#f2f2f2"/>
<rect x="584.69" y="1449.4" width="12.07" height="397.92" fill="#f2f2f2"/>
<rect x="596.76" y="1449.4" width="12.07" height="397.92" fill="#f2f2f2"/>
<rect x="608.83" y="1449.4" width="12.07" height="397.92" fill="#f2f2f2"/>
<rect x="639.98" y="1449.4" width="12.07" height="397.92" fill="#f2f2f2"/>
<rect x="652.05" y="1449.4" width="12.07" height="397.92" fill="#f2f2f2"/>
<rect x="664.12" y="1449.4" width="12.07" height="397.92" fill="#f2f2f2"/>
<rect x="676.19" y="1449.4" width="12.07" height="397.92" fill="#f2f2f2"/>
<rect x="688.26" y="1449.4" width="12.07" height="397.92" fill="#f2f2f2"/>
<rect x="700.33" y="1449.4" width="12.07" height="397.92" fill="#f2f2f2"/>
<rect x="731.48" y="1449.4" width="12.07" height="397.92" fill="#f2f2f2"/>
<rect x="743.55" y="1449.4" width="12.07" height="397.92" fill="#f2f2f2"/>
<rect x="755.62" y="1449.4" width="12.07" height="397.92" fill="#f2f2f2"/>
<rect x="767.69" y="1449.4" width="12.07" height="397.92" fill="#f2f2f2"/>
<rect x="779.76" y="1449.4" width="12.07" height="397.92" fill="#f2f2f2"/>
<rect x="791.83" y="1449.4" width="12.07" height="397.92" fill="#f2f2f2"/>
<rect x="803.9" y="1449.4" width="12.07" height="397.92" fill="#f2f2f2"/>
<rect x="815.97" y="1449.4" width="12.07" height="397.92" fill="#f2f2f2"/>
<rect x="828.04" y="1449.4" width="12.07" height="397.92" fill="#f2f2f2"/>
<rect x="840.11" y="1449.4" width="12.07" height="397.92" fill="#f2f2f2"/>
<rect x="852.18" y="1449.4" width="12.07" height="397.92" fill="#f2f2f2"/>
<rect x="864.25" y="1449.4" width="12.07" height="397.92" fill="#f2f2f2"/>
<rect x="876.32" y="1449.4" width="12.07" height="397.92" fill="#f2f2f2"/>
<rect x="888.39" y="1449.4" width="12.07" height="397.92" fill="#f2f2f2"/>
<rect x="900.46" y="1449.4" width="12.07" height="397.92" fill="#f2f2f2"/>
<rect x="912.53" y="1449.4" width="12.07" height="397.92" fill="#f2f2f2"/>
<rect x="924.6" y="1449.4" width="12.07" height="397.92" fill="#f2f2f2"/>
<rect x="936.67" y="1449.4" width="12.07" height="397.92" fill="#f2f2f2"/>
<rect x="948.74" y="1449.4" width="12.07" height="397.92" fill="#f2f2f2"/>
<rect x="960.81" y="1449.4" width="12.07" height="397.92" fill="#f2f2f2"/>
<rect x="972.88" y="1449.4" width="12.07" height="397.92" fill="#f2f2f2"/>
<rect x="984.95" y="1449.4" width="12.07" height="397.92" fill="#f2f2f2"/>
<rect x="997.02" y="1449.4" width="12.07" height="397.92" fill="#f2f2f2"/>
<rect x="1009.09" y="1449.4" width="12.07" height="397.92" fill="#f2f2f2"/>
<rect x="1021.16" y="1449.4" width="12.07" height="397.92" fill="#f2f2f2"/>
<rect x="1052.31" y="1449.4" width="12.07" height="397.92" fill="#f2f2f2"/>
<rect x="1064.38" y="1449.4" width="12.07" height="397.92" fill="#f2f2f2"/>
<rect x="1076.45" y="1449.4" width="12.07" height="397.92" fill="#f2f2f2"/>
<rect x="1088.52" y="1449.4" width="12.07" height="397.92" fill="#f2f2f2"/>
<rect x="1100.59" y="1449.4" width="12.07" height="397.92" fill="#f2f2f2"/>
<rect x="1112.66" y="1449.4" width="12.07" height="397.92" fill="#f2f2f2"/>
<rect x="1124.73" y="1449.4" width="12.07" height="397.92" fill="#f2f2f2"/>
<rect x="1136.8" y="1449.4" width="12.07" height="397.92" fill="#f2f2f2"/>
<rect x="1167.95" y="1449.4" width="12.07" height="397.92" fill="#f2f2f2"/>
<rect x="1180.02" y="1449.4" width="12.07" height="397.92" fill="#f2f2f2"/>
<rect x="1192.09" y="1449.4" width="12.07" height="397.92" fill="#f2f2f2"/>
<rect x="1204.16" y="1449.4" width="12.07" height="397.92" fill="#f2f2f2"/>
<rect x="1216.23" y="1449.4" width="12.07" height="397.92" fill="#f2f2f2"/>
<rect x="1228.3" y="1449.4" width="12.07" height="397.92" fill="#f2f2f2"/>
<rect x="1240.37" y="1449.4" width="12.07" height="397.92" fill="#f2f2f2"/>
<rect x="1252.44" y="1449.4" width="12.07" height="397.92" fill="#f2f2f2"/>
<rect x="1264.51" y="1449.4" width="12.07" height="397.92" fill="#f2f2f2"/>
<rect x="1276.58" y="1449.4" width="12.07" height="397.92" fill="#f2f2f2"/>
<rect x="1288.65" y="1449.4" width="12.07" height="397.92" fill="#f2f2f2"/>
<rect x="1300.72" y="1449.4" width="12.07" height="397.92" fill="#f2f2f2"/>
<rect x="288" y="1499.14" width="12.32" height="24.87" fill="#000"/>
<rect x="288" y="1648.36" width="12.32" height="24.87" fill="#000"/>
<rect x="288" y="1722.97" width="12.32" height="24.87" fill="#000"/>
<rect x="288" y="1797.58" width="12.32" height="24.87" fill="#000"/>
<rect x="300.07" y="1499.14" width="12.32" height="24.87" fill="#000"/>
<rect x="300.07" y="1648.36" width="12.32" height="24.87" fill="#000"/>
<rect x="300.07" y="1722.97" width="12.32" height="24.87" fill="#000"/>
<rect x="300.07" y="1797.58" width="12.32" height="24.87" fill="#000"/>
<rect x="312.14" y="1797.58" width="12.32" height="24.87" fill="#000"/>
<rect x="324.21" y="1797.58" width="12.32" height="24.87" fill="#000"/>
<rect x="336.28" y="1499.14" width="12.32" height="24.87" fill="#000"/>
<rect x="336.28" y="1722.97" width="12.32" height="24.87" fill="#000"/>
<rect x="336.28" y="1797.58" width="12.32" height="24.87" fill="#000"/>
<rect x="348.35" y="1499.14" width="12.32" height="24.87" fill="#000"/>
<rect x="348.35" y="1623.49" width="12.32" height="24.87" fill="#000"/>
<rect x="348.35" y="1722.97" width="12.32" height="24.87" fill="#000"/>
<rect x="348.35" y="1797.58" width="12.32" height="24.87" fill="#000"/>
<rect x="360.42" y="1722.97" width="12.32" height="24.87" fill="#000"/>
<rect x="360.42" y="1797.58" width="12.32" height="24.87" fill="#000"/>
<rect x="372.49" y="1648.36" width="12.32" height="24.87" fill="#000"/>
<rect x="372.49" y="1797.58" width="12.32" height="24.87" fill="#000"/>
<rect x="384.56" y="1797.58" width="12.32" height="24.87" fill="#000"/>
<rect x="408.7" y="1648.36" width="12.32" height="24.87" fill="#000"/>
<rect x="408.7" y="1722.97" width="12.32" height="24.87" fill="#000"/>
<rect x="408.7" y="1797.58" width="12.32" height="24.87" fill="#000"/>
<rect x="420.77" y="1499.14" width="12.32" height="24.87" fill="#000"/>
<rect x="420.77" y="1722.97" width="12.32" height="24.87" fill="#000"/>
<rect x="420.77" y="1797.58" width="12.32" height="24.87" fill="#000"/>
<rect x="432.84" y="1722.97" width="12.32" height="24.87" fill="#000"/>
<rect x="444.91" y="1722.97" width="12.32" height="24.87" fill="#000"/>
<rect x="456.98" y="1499.14" width="12.32" height="24.87" fill="#000"/>
<rect x="456.98" y="1722.97" width="12.32" height="24.87" fill="#000"/>
<rect x="456.98" y="1772.71" width="12.32" height="49.74" fill="#000"/>
<rect x="469.05" y="1648.36" width="12.32" height="24.87" fill="#000"/>
<rect x="469.05" y="1722.97" width="12.32" height="24.87" fill="#000"/>
<rect x="469.05" y="1797.58" width="12.32" height="24.87" fill="#000"/>
<rect x="481.12" y="1722.97" width="12.32" height="24.87" fill="#000"/>
<rect x="493.19" y="1499.14" width="12.32" height="24.87" fill="#000"/>
<rect x="493.19" y="1623.49" width="12.32" height="24.87" fill="#000"/>
<rect x="493.19" y="1722.97" width="12.32" height="24.87" fill="#000"/>
<rect x="493.19" y="1797.58" width="12.32" height="24.87" fill="#000"/>
<rect x="505.26" y="1722.97" width="12.32" height="24.87" fill="#000"/>
<rect x="505.26" y="1797.58" width="12.32" height="24.87" fill="#000"/>
<rect x="517.33" y="1499.14" width="12.07" height="24.87" fill="#000"/>
<rect x="517.33" y="1722.97" width="12.07" height="24.87" fill="#000"/>
<rect x="517.33" y="1797.58" width="12.07" height="24.87" fill="#000"/>
<rect x="560.55" y="1623.49" width="12.32" height="24.87" fill="#000"/>
<rect x="584.69" y="1648.36" width="12.32" height="24.87" fill="#000"/>
<rect x="596.76" y="1648.36" width="12.32" height="24.87" fill="#000"/>
<rect x="596.76" y="1722.97" width="12.32" height="24.87" fill="#000"/>
<rect x="608.83" y="1499.14" width="12.07" height="24.87" fill="#000"/>
<rect x="639.98" y="1499.14" width="12.32" height="24.87" fill="#000"/>
<rect x="639.98" y="1623.49" width="12.32" height="24.87" fill="#000"/>
<rect x="639.98" y="1698.1" width="12.32" height="49.74" fill="#000"/>
<rect x="639.98" y="1797.58" width="12.32" height="24.87" fill="#000"/>
<rect x="652.05" y="1499.14" width="12.32" height="24.87" fill="#000"/>
<rect x="652.05" y="1623.49" width="12.32" height="49.74" fill="#000"/>
<rect x="652.05" y="1722.97" width="12.32" height="24.87" fill="#000"/>
<rect x="652.05" y="1797.58" width="12.32" height="24.87" fill="#000"/>
<rect x="664.12" y="1623.49" width="12.32" height="49.74" fill="#000"/>
<rect x="676.19" y="1623.49" width="12.32" height="24.87" fill="#000"/>
<rect x="676.19" y="1722.97" width="12.32" height="24.87" fill="#000"/>
<rect x="688.26" y="1623.49" width="12.32" height="24.87" fill="#000"/>
<rect x="700.33" y="1623.49" width="12.07" height="49.74" fill="#000"/>
<rect x="731.48" y="1524.01" width="12.32" height="24.87" fill="#000"/>
<rect x="731.48" y="1797.58" width="12.32" height="24.87" fill="#000"/>
<rect x="743.55" y="1524.01" width="12.32" height="24.87" fill="#000"/>
<rect x="743.55" y="1797.58" width="12.32" height="24.87" fill="#000"/>
<rect x="755.62" y="1797.58" width="12.32" height="24.87" fill="#000"/>
<rect x="767.69" y="1524.01" width="12.32" height="24.87" fill="#000"/>
<rect x="767.69" y="1797.58" width="12.32" height="24.87" fill="#000"/>
<rect x="779.76" y="1623.49" width="12.32" height="24.87" fill="#000"/>
<rect x="779.76" y="1797.58" width="12.32" height="24.87" fill="#000"/>
<rect x="791.83" y="1524.01" width="12.32" height="24.87" fill="#000"/>
<rect x="791.83" y="1797.58" width="12.32" height="24.87" fill="#000"/>
<rect x="803.9" y="1797.58" width="12.32" height="24.87" fill="#000"/>
<rect x="815.97" y="1524.01" width="12.32" height="24.87" fill="#000"/>
<rect x="815.97" y="1623.49" width="12.32" height="24.87" fill="#000"/>
<rect x="815.97" y="1797.58" width="12.32" height="24.87" fill="#000"/>
<rect x="828.04" y="1797.58" width="12.32" height="24.87" fill="#000"/>
<rect x="840.11" y="1524.01" width="12.32" height="24.87" fill="#000"/>
<rect x="840.11" y="1797.58" width="12.32" height="24.87" fill="#000"/>
<rect x="852.18" y="1797.58" width="12.32" height="24.87" fill="#000"/>
<rect x="864.25" y="1524.01" width="12.32" height="24.87" fill="#000"/>
<rect x="864.25" y="1797.58" width="12.32" height="24.87" fill="#000"/>
<rect x="888.39" y="1524.01" width="12.32" height="24.87" fill="#000"/>
<rect x="888.39" y="1623.49" width="12.32" height="24.87" fill="#000"/>
<rect x="900.46" y="1524.01" width="12.32" height="24.87" fill="#000"/>
<rect x="900.46" y="1797.58" width="12.32" height="24.87" fill="#000"/>
<rect x="912.53" y="1524.01" width="12.32" height="24.87" fill="#000"/>
<rect x="912.53" y="1747.84" width="12.32" height="24.87" fill="#000"/>
<rect x="912.53" y="1797.58" width="12.32" height="24.87" fill="#000"/>
<rect x="924.6" y="1524.01" width="12.32" height="24.87" fill="#000"/>
<rect x="924.6" y="1797.58" width="12.32" height="24.87" fill="#000"/>
<rect x="936.67" y="1797.58" width="12.32" height="24.87" fill="#000"/>
<rect x="948.74" y="1524.01" width="12.32" height="24.87" fill="#000"/>
<rect x="948.74" y="1648.36" width="12.32" height="24.87" fill="#000"/>
<rect x="948.74" y="1797.58" width="12.32" height="24.87" fill="#000"/>
<rect x="960.81" y="1524.01" width="12.32" height="24.87" fill="#000"/>
<rect x="960.81" y="1797.58" width="12.32" height="24.87" fill="#000"/>
<rect x="972.88" y="1623.49" width="12.32" height="24.87" fill="#000"/>
<rect x="972.88" y="1797.58" width="12.32" height="24.87" fill="#000"/>
<rect x="984.95" y="1524.01" width="12.32" height="24.87" fill="#000"/>
<rect x="984.95" y="1747.84" width="12.32" height="24.87" fill="#000"/>
<rect x="984.95" y="1797.58" width="12.32" height="24.87" fill="#000"/>
<rect x="997.02" y="1623.49" width="12.32" height="24.87" fill="#000"/>
<rect x="997.02" y="1797.58" width="12.32" height="24.87" fill="#000"/>
<rect x="1009.09" y="1797.58" width="12.32" height="24.87" fill="#000"/>
<rect x="1021.16" y="1524.01" width="12.07" height="24.87" fill="#000"/>
<rect x="1021.16" y="1797.58" width="12.07" height="24.87" fill="#000"/>
<rect x="1064.38" y="1524.01" width="12.32" height="24.87" fill="#000"/>
<rect x="1064.38" y="1747.84" width="12.32" height="24.87" fill="#000"/>
<rect x="1076.45" y="1499.14" width="12.32" height="24.87" fill="#000"/>
<rect x="1088.52" y="1573.75" width="12.32" height="24.87" fill="#000"/>
<rect x="1088.52" y="1747.84" width="12.32" height="24.87" fill="#000"/>
<rect x="1124.73" y="1524.01" width="12.32" height="24.87" fill="#000"/>
<rect x="1124.73" y="1573.75" width="12.32" height="24.87" fill="#000"/>
<rect x="1136.8" y="1524.01" width="12.07" height="24.87" fill="#000"/>
<rect x="1136.8" y="1623.49" width="12.07" height="24.87" fill="#000"/>
<rect x="1136.8" y="1747.84" width="12.07" height="24.87" fill="#000"/>
<rect x="1167.95" y="1573.75" width="12.32" height="24.87" fill="#000"/>
<rect x="1167.95" y="1623.49" width="12.32" height="24.87" fill="#000"/>
<rect x="1180.02" y="1623.49" width="12.32" height="24.87" fill="#000"/>
<rect x="1204.16" y="1524.01" width="12.32" height="24.87" fill="#000"/>
<rect x="1204.16" y="1623.49" width="12.32" height="24.87" fill="#000"/>
<rect x="1216.23" y="1772.71" width="12.32" height="24.87" fill="#000"/>
<rect x="1228.3" y="1524.01" width="12.32" height="24.87" fill="#000"/>
<rect x="1288.65" y="1648.36" width="12.32" height="24.87" fill="#000"/>
<text transform="translate(165.3 1477.4) scale(1 1.038)">ARNT</text>
<text transform="translate(165.3 1502.25) scale(1 1.038)">ARNT2</text>
<text transform="translate(165.3 1527.1) scale(1 1.038)">GLI3</text>
<text transform="translate(165.3 1551.95) scale(1 1.038)">HIF1A</text>
<text transform="translate(165.3 1576.8) scale(1 1.038)">LEF1</text>
<text transform="translate(165.3 1601.65) scale(1 1.038)">MAF</text>
<text transform="translate(165.3 1626.5) scale(1 1.038)">NKX3-2</text>
<text transform="translate(165.3 1651.35) scale(1 1.038)">RUNX2</text>
<text transform="translate(165.3 1676.2) scale(1 1.038)">RUNX3</text>
<text transform="translate(165.3 1701.05) scale(1 1.038)">SMAD5</text>
<text transform="translate(165.3 1725.9) scale(1 1.038)">SOX5</text>
<text transform="translate(165.3 1750.75) scale(1 1.038)">SOX6</text>
<text transform="translate(165.3 1775.6) scale(1 1.038)">SOX9</text>
<text transform="translate(165.3 1800.45) scale(1 1.038)">TCF3</text>
<text transform="translate(165.3 1825.3) scale(1 1.038)">TCF4</text>
<text transform="translate(165.3 1850.15) scale(1 1.038)">TRPS1</text>
<rect x="90.9" y="1450.3" width="65.9" height="397.5" fill="none" stroke="#000" stroke-width="3.6"/>
<text transform="translate(135 1649.05) rotate(-90)" text-anchor="middle">Chondrocyte</text>
<rect x="288" y="1860.4" width="12.07" height="273.57" fill="#f2f2f2"/>
<rect x="300.07" y="1860.4" width="12.07" height="273.57" fill="#f2f2f2"/>
<rect x="312.14" y="1860.4" width="12.07" height="273.57" fill="#f2f2f2"/>
<rect x="324.21" y="1860.4" width="12.07" height="273.57" fill="#f2f2f2"/>
<rect x="336.28" y="1860.4" width="12.07" height="273.57" fill="#f2f2f2"/>
<rect x="348.35" y="1860.4" width="12.07" height="273.57" fill="#f2f2f2"/>
<rect x="360.42" y="1860.4" width="12.07" height="273.57" fill="#f2f2f2"/>
<rect x="372.49" y="1860.4" width="12.07" height="273.57" fill="#f2f2f2"/>
<rect x="384.56" y="1860.4" width="12.07" height="273.57" fill="#f2f2f2"/>
<rect x="396.63" y="1860.4" width="12.07" height="273.57" fill="#f2f2f2"/>
<rect x="408.7" y="1860.4" width="12.07" height="273.57" fill="#f2f2f2"/>
<rect x="420.77" y="1860.4" width="12.07" height="273.57" fill="#f2f2f2"/>
<rect x="432.84" y="1860.4" width="12.07" height="273.57" fill="#f2f2f2"/>
<rect x="444.91" y="1860.4" width="12.07" height="273.57" fill="#f2f2f2"/>
<rect x="456.98" y="1860.4" width="12.07" height="273.57" fill="#f2f2f2"/>
<rect x="469.05" y="1860.4" width="12.07" height="273.57" fill="#f2f2f2"/>
<rect x="481.12" y="1860.4" width="12.07" height="273.57" fill="#f2f2f2"/>
<rect x="493.19" y="1860.4" width="12.07" height="273.57" fill="#f2f2f2"/>
<rect x="505.26" y="1860.4" width="12.07" height="273.57" fill="#f2f2f2"/>
<rect x="517.33" y="1860.4" width="12.07" height="273.57" fill="#f2f2f2"/>
<rect x="548.48" y="1860.4" width="12.07" height="273.57" fill="#f2f2f2"/>
<rect x="560.55" y="1860.4" width="12.07" height="273.57" fill="#f2f2f2"/>
<rect x="572.62" y="1860.4" width="12.07" height="273.57" fill="#f2f2f2"/>
<rect x="584.69" y="1860.4" width="12.07" height="273.57" fill="#f2f2f2"/>
<rect x="596.76" y="1860.4" width="12.07" height="273.57" fill="#f2f2f2"/>
<rect x="608.83" y="1860.4" width="12.07" height="273.57" fill="#f2f2f2"/>
<rect x="639.98" y="1860.4" width="12.07" height="273.57" fill="#f2f2f2"/>
<rect x="652.05" y="1860.4" width="12.07" height="273.57" fill="#f2f2f2"/>
<rect x="664.12" y="1860.4" width="12.07" height="273.57" fill="#f2f2f2"/>
<rect x="676.19" y="1860.4" width="12.07" height="273.57" fill="#f2f2f2"/>
<rect x="688.26" y="1860.4" width="12.07" height="273.57" fill="#f2f2f2"/>
<rect x="700.33" y="1860.4" width="12.07" height="273.57" fill="#f2f2f2"/>
<rect x="731.48" y="1860.4" width="12.07" height="273.57" fill="#f2f2f2"/>
<rect x="743.55" y="1860.4" width="12.07" height="273.57" fill="#f2f2f2"/>
<rect x="755.62" y="1860.4" width="12.07" height="273.57" fill="#f2f2f2"/>
<rect x="767.69" y="1860.4" width="12.07" height="273.57" fill="#f2f2f2"/>
<rect x="779.76" y="1860.4" width="12.07" height="273.57" fill="#f2f2f2"/>
<rect x="791.83" y="1860.4" width="12.07" height="273.57" fill="#f2f2f2"/>
<rect x="803.9" y="1860.4" width="12.07" height="273.57" fill="#f2f2f2"/>
<rect x="815.97" y="1860.4" width="12.07" height="273.57" fill="#f2f2f2"/>
<rect x="828.04" y="1860.4" width="12.07" height="273.57" fill="#f2f2f2"/>
<rect x="840.11" y="1860.4" width="12.07" height="273.57" fill="#f2f2f2"/>
<rect x="852.18" y="1860.4" width="12.07" height="273.57" fill="#f2f2f2"/>
<rect x="864.25" y="1860.4" width="12.07" height="273.57" fill="#f2f2f2"/>
<rect x="876.32" y="1860.4" width="12.07" height="273.57" fill="#f2f2f2"/>
<rect x="888.39" y="1860.4" width="12.07" height="273.57" fill="#f2f2f2"/>
<rect x="900.46" y="1860.4" width="12.07" height="273.57" fill="#f2f2f2"/>
<rect x="912.53" y="1860.4" width="12.07" height="273.57" fill="#f2f2f2"/>
<rect x="924.6" y="1860.4" width="12.07" height="273.57" fill="#f2f2f2"/>
<rect x="936.67" y="1860.4" width="12.07" height="273.57" fill="#f2f2f2"/>
<rect x="948.74" y="1860.4" width="12.07" height="273.57" fill="#f2f2f2"/>
<rect x="960.81" y="1860.4" width="12.07" height="273.57" fill="#f2f2f2"/>
<rect x="972.88" y="1860.4" width="12.07" height="273.57" fill="#f2f2f2"/>
<rect x="984.95" y="1860.4" width="12.07" height="273.57" fill="#f2f2f2"/>
<rect x="997.02" y="1860.4" width="12.07" height="273.57" fill="#f2f2f2"/>
<rect x="1009.09" y="1860.4" width="12.07" height="273.57" fill="#f2f2f2"/>
<rect x="1021.16" y="1860.4" width="12.07" height="273.57" fill="#f2f2f2"/>
<rect x="1052.31" y="1860.4" width="12.07" height="273.57" fill="#f2f2f2"/>
<rect x="1064.38" y="1860.4" width="12.07" height="273.57" fill="#f2f2f2"/>
<rect x="1076.45" y="1860.4" width="12.07" height="273.57" fill="#f2f2f2"/>
<rect x="1088.52" y="1860.4" width="12.07" height="273.57" fill="#f2f2f2"/>
<rect x="1100.59" y="1860.4" width="12.07" height="273.57" fill="#f2f2f2"/>
<rect x="1112.66" y="1860.4" width="12.07" height="273.57" fill="#f2f2f2"/>
<rect x="1124.73" y="1860.4" width="12.07" height="273.57" fill="#f2f2f2"/>
<rect x="1136.8" y="1860.4" width="12.07" height="273.57" fill="#f2f2f2"/>
<rect x="1167.95" y="1860.4" width="12.07" height="273.57" fill="#f2f2f2"/>
<rect x="1180.02" y="1860.4" width="12.07" height="273.57" fill="#f2f2f2"/>
<rect x="1192.09" y="1860.4" width="12.07" height="273.57" fill="#f2f2f2"/>
<rect x="1204.16" y="1860.4" width="12.07" height="273.57" fill="#f2f2f2"/>
<rect x="1216.23" y="1860.4" width="12.07" height="273.57" fill="#f2f2f2"/>
<rect x="1228.3" y="1860.4" width="12.07" height="273.57" fill="#f2f2f2"/>
<rect x="1240.37" y="1860.4" width="12.07" height="273.57" fill="#f2f2f2"/>
<rect x="1252.44" y="1860.4" width="12.07" height="273.57" fill="#f2f2f2"/>
<rect x="1264.51" y="1860.4" width="12.07" height="273.57" fill="#f2f2f2"/>
<rect x="1276.58" y="1860.4" width="12.07" height="273.57" fill="#f2f2f2"/>
<rect x="1288.65" y="1860.4" width="12.07" height="273.57" fill="#f2f2f2"/>
<rect x="1300.72" y="1860.4" width="12.07" height="273.57" fill="#f2f2f2"/>
<rect x="300.07" y="2059.36" width="12.32" height="24.87" fill="#000"/>
<rect x="300.07" y="2109.1" width="12.32" height="24.87" fill="#000"/>
<rect x="324.21" y="1935.01" width="12.32" height="24.87" fill="#000"/>
<rect x="336.28" y="1935.01" width="12.32" height="24.87" fill="#000"/>
<rect x="360.42" y="2084.23" width="12.32" height="24.87" fill="#000"/>
<rect x="384.56" y="1910.14" width="12.32" height="24.87" fill="#000"/>
<rect x="432.84" y="2084.23" width="12.32" height="24.87" fill="#000"/>
<rect x="456.98" y="1910.14" width="12.32" height="24.87" fill="#000"/>
<rect x="456.98" y="2059.36" width="12.32" height="74.61" fill="#000"/>
<rect x="469.05" y="2109.1" width="12.32" height="24.87" fill="#000"/>
<rect x="481.12" y="1910.14" width="12.32" height="24.87" fill="#000"/>
<rect x="481.12" y="2084.23" width="12.32" height="24.87" fill="#000"/>
<rect x="548.48" y="2059.36" width="12.32" height="24.87" fill="#000"/>
<rect x="584.69" y="2109.1" width="12.32" height="24.87" fill="#000"/>
<rect x="596.76" y="2109.1" width="12.32" height="24.87" fill="#000"/>
<rect x="608.83" y="1910.14" width="12.07" height="24.87" fill="#000"/>
<rect x="639.98" y="2059.36" width="12.32" height="24.87" fill="#000"/>
<rect x="652.05" y="2059.36" width="12.32" height="24.87" fill="#000"/>
<rect x="664.12" y="2109.1" width="12.32" height="24.87" fill="#000"/>
<rect x="731.48" y="1885.27" width="12.32" height="49.74" fill="#000"/>
<rect x="731.48" y="2109.1" width="12.32" height="24.87" fill="#000"/>
<rect x="743.55" y="1860.4" width="12.32" height="74.61" fill="#000"/>
<rect x="743.55" y="1984.75" width="12.32" height="24.87" fill="#000"/>
<rect x="743.55" y="2034.49" width="12.32" height="24.87" fill="#000"/>
<rect x="743.55" y="2109.1" width="12.32" height="24.87" fill="#000"/>
<rect x="755.62" y="1885.27" width="12.32" height="49.74" fill="#000"/>
<rect x="755.62" y="1984.75" width="12.32" height="24.87" fill="#000"/>
<rect x="755.62" y="2034.49" width="12.32" height="24.87" fill="#000"/>
<rect x="755.62" y="2109.1" width="12.32" height="24.87" fill="#000"/>
<rect x="767.69" y="1885.27" width="12.32" height="124.35" fill="#000"/>
<rect x="767.69" y="2059.36" width="12.32" height="24.87" fill="#000"/>
<rect x="767.69" y="2109.1" width="12.32" height="24.87" fill="#000"/>
<rect x="779.76" y="1885.27" width="12.32" height="124.35" fill="#000"/>
<rect x="779.76" y="2059.36" width="12.32" height="24.87" fill="#000"/>
<rect x="791.83" y="1860.4" width="12.32" height="74.61" fill="#000"/>
<rect x="791.83" y="1959.88" width="12.32" height="49.74" fill="#000"/>
<rect x="791.83" y="2034.49" width="12.32" height="24.87" fill="#000"/>
<rect x="791.83" y="2109.1" width="12.32" height="24.87" fill="#000"/>
<rect x="803.9" y="1885.27" width="12.32" height="24.87" fill="#000"/>
<rect x="803.9" y="1984.75" width="12.32" height="24.87" fill="#000"/>
<rect x="803.9" y="2059.36" width="12.32" height="24.87" fill="#000"/>
<rect x="803.9" y="2109.1" width="12.32" height="24.87" fill="#000"/>
<rect x="815.97" y="1885.27" width="12.32" height="49.74" fill="#000"/>
<rect x="815.97" y="1959.88" width="12.32" height="24.87" fill="#000"/>
<rect x="828.04" y="1860.4" width="12.32" height="74.61" fill="#000"/>
<rect x="828.04" y="1984.75" width="12.32" height="24.87" fill="#000"/>
<rect x="828.04" y="2034.49" width="12.32" height="24.87" fill="#000"/>
<rect x="840.11" y="1984.75" width="12.32" height="24.87" fill="#000"/>
<rect x="852.18" y="1860.4" width="12.32" height="49.74" fill="#000"/>
<rect x="852.18" y="1959.88" width="12.32" height="49.74" fill="#000"/>
<rect x="852.18" y="2034.49" width="12.32" height="24.87" fill="#000"/>
<rect x="852.18" y="2109.1" width="12.32" height="24.87" fill="#000"/>
<rect x="864.25" y="1984.75" width="12.32" height="24.87" fill="#000"/>
<rect x="876.32" y="1860.4" width="12.32" height="74.61" fill="#000"/>
<rect x="876.32" y="1984.75" width="12.32" height="24.87" fill="#000"/>
<rect x="876.32" y="2034.49" width="12.32" height="49.74" fill="#000"/>
<rect x="888.39" y="1910.14" width="12.32" height="24.87" fill="#000"/>
<rect x="900.46" y="1885.27" width="12.32" height="49.74" fill="#000"/>
<rect x="900.46" y="1984.75" width="12.32" height="24.87" fill="#000"/>
<rect x="900.46" y="2109.1" width="12.32" height="24.87" fill="#000"/>
<rect x="912.53" y="1860.4" width="12.32" height="74.61" fill="#000"/>
<rect x="912.53" y="1984.75" width="12.32" height="24.87" fill="#000"/>
<rect x="924.6" y="1860.4" width="12.32" height="99.48" fill="#000"/>
<rect x="924.6" y="1984.75" width="12.32" height="24.87" fill="#000"/>
<rect x="924.6" y="2059.36" width="12.32" height="24.87" fill="#000"/>
<rect x="924.6" y="2109.1" width="12.32" height="24.87" fill="#000"/>
<rect x="936.67" y="1885.27" width="12.32" height="49.74" fill="#000"/>
<rect x="936.67" y="1959.88" width="12.32" height="49.74" fill="#000"/>
<rect x="936.67" y="2034.49" width="12.32" height="49.74" fill="#000"/>
<rect x="948.74" y="1885.27" width="12.32" height="24.87" fill="#000"/>
<rect x="948.74" y="1984.75" width="12.32" height="24.87" fill="#000"/>
<rect x="948.74" y="2059.36" width="12.32" height="24.87" fill="#000"/>
<rect x="948.74" y="2109.1" width="12.32" height="24.87" fill="#000"/>
<rect x="960.81" y="1885.27" width="12.32" height="24.87" fill="#000"/>
<rect x="960.81" y="1984.75" width="12.32" height="24.87" fill="#000"/>
<rect x="960.81" y="2059.36" width="12.32" height="24.87" fill="#000"/>
<rect x="960.81" y="2109.1" width="12.32" height="24.87" fill="#000"/>
<rect x="972.88" y="1910.14" width="12.32" height="24.87" fill="#000"/>
<rect x="984.95" y="1885.27" width="12.32" height="24.87" fill="#000"/>
<rect x="984.95" y="1959.88" width="12.32" height="49.74" fill="#000"/>
<rect x="984.95" y="2109.1" width="12.32" height="24.87" fill="#000"/>
<rect x="997.02" y="1885.27" width="12.32" height="24.87" fill="#000"/>
<rect x="997.02" y="1935.01" width="12.32" height="24.87" fill="#000"/>
<rect x="997.02" y="1984.75" width="12.32" height="24.87" fill="#000"/>
<rect x="997.02" y="2059.36" width="12.32" height="24.87" fill="#000"/>
<rect x="1009.09" y="1860.4" width="12.32" height="74.61" fill="#000"/>
<rect x="1009.09" y="1959.88" width="12.32" height="49.74" fill="#000"/>
<rect x="1009.09" y="2034.49" width="12.32" height="49.74" fill="#000"/>
<rect x="1021.16" y="1885.27" width="12.07" height="49.74" fill="#000"/>
<rect x="1021.16" y="1959.88" width="12.07" height="49.74" fill="#000"/>
<rect x="1021.16" y="2059.36" width="12.07" height="24.87" fill="#000"/>
<rect x="1021.16" y="2109.1" width="12.07" height="24.87" fill="#000"/>
<rect x="1076.45" y="2059.36" width="12.32" height="24.87" fill="#000"/>
<rect x="1112.66" y="2109.1" width="12.32" height="24.87" fill="#000"/>
<rect x="1124.73" y="2109.1" width="12.32" height="24.87" fill="#000"/>
<rect x="1167.95" y="2109.1" width="12.32" height="24.87" fill="#000"/>
<rect x="1180.02" y="2059.36" width="12.32" height="24.87" fill="#000"/>
<rect x="1180.02" y="2109.1" width="12.32" height="24.87" fill="#000"/>
<rect x="1192.09" y="2009.62" width="12.32" height="49.74" fill="#000"/>
<rect x="1192.09" y="2109.1" width="12.32" height="24.87" fill="#000"/>
<rect x="1204.16" y="2034.49" width="12.32" height="49.74" fill="#000"/>
<rect x="1204.16" y="2109.1" width="12.32" height="24.87" fill="#000"/>
<rect x="1216.23" y="1910.14" width="12.32" height="24.87" fill="#000"/>
<rect x="1216.23" y="2059.36" width="12.32" height="24.87" fill="#000"/>
<rect x="1252.44" y="2059.36" width="12.32" height="24.87" fill="#000"/>
<rect x="1264.51" y="2059.36" width="12.32" height="24.87" fill="#000"/>
<rect x="1264.51" y="2109.1" width="12.32" height="24.87" fill="#000"/>
<rect x="1300.72" y="2059.36" width="12.07" height="24.87" fill="#000"/>
<rect x="1300.72" y="2109.1" width="12.07" height="24.87" fill="#000"/>
<text transform="translate(165 1888.3) scale(1 1.038)">ASCL1</text>
<text transform="translate(165 1913.02) scale(1 1.038)">GATA3</text>
<text transform="translate(165 1937.74) scale(1 1.038)">HAND2</text>
<text transform="translate(165 1962.46) scale(1 1.038)">INSM1</text>
<text transform="translate(165 1987.18) scale(1 1.038)">PHOX2A</text>
<text transform="translate(165 2011.9) scale(1 1.038)">PHOX2B</text>
<text transform="translate(165 2036.62) scale(1 1.038)">SOX10</text>
<text transform="translate(165 2061.34) scale(1 1.038)">SOX11</text>
<text transform="translate(165 2086.06) scale(1 1.038)">SOX4</text>
<text transform="translate(165 2110.78) scale(1 1.038)">TFAP2A</text>
<text transform="translate(165 2135.5) scale(1 1.038)">TFAP2B</text>
<rect x="91.8" y="1862.2" width="65.1" height="271.5" fill="none" stroke="#000" stroke-width="3.6"/>
<text transform="translate(135 1997.95) rotate(-90)" text-anchor="middle">Neuron</text>
<rect x="288" y="2146.8" width="12.07" height="223.83" fill="#f2f2f2"/>
<rect x="300.07" y="2146.8" width="12.07" height="223.83" fill="#f2f2f2"/>
<rect x="312.14" y="2146.8" width="12.07" height="223.83" fill="#f2f2f2"/>
<rect x="324.21" y="2146.8" width="12.07" height="223.83" fill="#f2f2f2"/>
<rect x="336.28" y="2146.8" width="12.07" height="223.83" fill="#f2f2f2"/>
<rect x="348.35" y="2146.8" width="12.07" height="223.83" fill="#f2f2f2"/>
<rect x="360.42" y="2146.8" width="12.07" height="223.83" fill="#f2f2f2"/>
<rect x="372.49" y="2146.8" width="12.07" height="223.83" fill="#f2f2f2"/>
<rect x="384.56" y="2146.8" width="12.07" height="223.83" fill="#f2f2f2"/>
<rect x="396.63" y="2146.8" width="12.07" height="223.83" fill="#f2f2f2"/>
<rect x="408.7" y="2146.8" width="12.07" height="223.83" fill="#f2f2f2"/>
<rect x="420.77" y="2146.8" width="12.07" height="223.83" fill="#f2f2f2"/>
<rect x="432.84" y="2146.8" width="12.07" height="223.83" fill="#f2f2f2"/>
<rect x="444.91" y="2146.8" width="12.07" height="223.83" fill="#f2f2f2"/>
<rect x="456.98" y="2146.8" width="12.07" height="223.83" fill="#f2f2f2"/>
<rect x="469.05" y="2146.8" width="12.07" height="223.83" fill="#f2f2f2"/>
<rect x="481.12" y="2146.8" width="12.07" height="223.83" fill="#f2f2f2"/>
<rect x="493.19" y="2146.8" width="12.07" height="223.83" fill="#f2f2f2"/>
<rect x="505.26" y="2146.8" width="12.07" height="223.83" fill="#f2f2f2"/>
<rect x="517.33" y="2146.8" width="12.07" height="223.83" fill="#f2f2f2"/>
<rect x="548.48" y="2146.8" width="12.07" height="223.83" fill="#f2f2f2"/>
<rect x="560.55" y="2146.8" width="12.07" height="223.83" fill="#f2f2f2"/>
<rect x="572.62" y="2146.8" width="12.07" height="223.83" fill="#f2f2f2"/>
<rect x="584.69" y="2146.8" width="12.07" height="223.83" fill="#f2f2f2"/>
<rect x="596.76" y="2146.8" width="12.07" height="223.83" fill="#f2f2f2"/>
<rect x="608.83" y="2146.8" width="12.07" height="223.83" fill="#f2f2f2"/>
<rect x="639.98" y="2146.8" width="12.07" height="223.83" fill="#f2f2f2"/>
<rect x="652.05" y="2146.8" width="12.07" height="223.83" fill="#f2f2f2"/>
<rect x="664.12" y="2146.8" width="12.07" height="223.83" fill="#f2f2f2"/>
<rect x="676.19" y="2146.8" width="12.07" height="223.83" fill="#f2f2f2"/>
<rect x="688.26" y="2146.8" width="12.07" height="223.83" fill="#f2f2f2"/>
<rect x="700.33" y="2146.8" width="12.07" height="223.83" fill="#f2f2f2"/>
<rect x="731.48" y="2146.8" width="12.07" height="223.83" fill="#f2f2f2"/>
<rect x="743.55" y="2146.8" width="12.07" height="223.83" fill="#f2f2f2"/>
<rect x="755.62" y="2146.8" width="12.07" height="223.83" fill="#f2f2f2"/>
<rect x="767.69" y="2146.8" width="12.07" height="223.83" fill="#f2f2f2"/>
<rect x="779.76" y="2146.8" width="12.07" height="223.83" fill="#f2f2f2"/>
<rect x="791.83" y="2146.8" width="12.07" height="223.83" fill="#f2f2f2"/>
<rect x="803.9" y="2146.8" width="12.07" height="223.83" fill="#f2f2f2"/>
<rect x="815.97" y="2146.8" width="12.07" height="223.83" fill="#f2f2f2"/>
<rect x="828.04" y="2146.8" width="12.07" height="223.83" fill="#f2f2f2"/>
<rect x="840.11" y="2146.8" width="12.07" height="223.83" fill="#f2f2f2"/>
<rect x="852.18" y="2146.8" width="12.07" height="223.83" fill="#f2f2f2"/>
<rect x="864.25" y="2146.8" width="12.07" height="223.83" fill="#f2f2f2"/>
<rect x="876.32" y="2146.8" width="12.07" height="223.83" fill="#f2f2f2"/>
<rect x="888.39" y="2146.8" width="12.07" height="223.83" fill="#f2f2f2"/>
<rect x="900.46" y="2146.8" width="12.07" height="223.83" fill="#f2f2f2"/>
<rect x="912.53" y="2146.8" width="12.07" height="223.83" fill="#f2f2f2"/>
<rect x="924.6" y="2146.8" width="12.07" height="223.83" fill="#f2f2f2"/>
<rect x="936.67" y="2146.8" width="12.07" height="223.83" fill="#f2f2f2"/>
<rect x="948.74" y="2146.8" width="12.07" height="223.83" fill="#f2f2f2"/>
<rect x="960.81" y="2146.8" width="12.07" height="223.83" fill="#f2f2f2"/>
<rect x="972.88" y="2146.8" width="12.07" height="223.83" fill="#f2f2f2"/>
<rect x="984.95" y="2146.8" width="12.07" height="223.83" fill="#f2f2f2"/>
<rect x="997.02" y="2146.8" width="12.07" height="223.83" fill="#f2f2f2"/>
<rect x="1009.09" y="2146.8" width="12.07" height="223.83" fill="#f2f2f2"/>
<rect x="1021.16" y="2146.8" width="12.07" height="223.83" fill="#f2f2f2"/>
<rect x="1052.31" y="2146.8" width="12.07" height="223.83" fill="#f2f2f2"/>
<rect x="1064.38" y="2146.8" width="12.07" height="223.83" fill="#f2f2f2"/>
<rect x="1076.45" y="2146.8" width="12.07" height="223.83" fill="#f2f2f2"/>
<rect x="1088.52" y="2146.8" width="12.07" height="223.83" fill="#f2f2f2"/>
<rect x="1100.59" y="2146.8" width="12.07" height="223.83" fill="#f2f2f2"/>
<rect x="1112.66" y="2146.8" width="12.07" height="223.83" fill="#f2f2f2"/>
<rect x="1124.73" y="2146.8" width="12.07" height="223.83" fill="#f2f2f2"/>
<rect x="1136.8" y="2146.8" width="12.07" height="223.83" fill="#f2f2f2"/>
<rect x="1167.95" y="2146.8" width="12.07" height="223.83" fill="#f2f2f2"/>
<rect x="1180.02" y="2146.8" width="12.07" height="223.83" fill="#f2f2f2"/>
<rect x="1192.09" y="2146.8" width="12.07" height="223.83" fill="#f2f2f2"/>
<rect x="1204.16" y="2146.8" width="12.07" height="223.83" fill="#f2f2f2"/>
<rect x="1216.23" y="2146.8" width="12.07" height="223.83" fill="#f2f2f2"/>
<rect x="1228.3" y="2146.8" width="12.07" height="223.83" fill="#f2f2f2"/>
<rect x="1240.37" y="2146.8" width="12.07" height="223.83" fill="#f2f2f2"/>
<rect x="1252.44" y="2146.8" width="12.07" height="223.83" fill="#f2f2f2"/>
<rect x="1264.51" y="2146.8" width="12.07" height="223.83" fill="#f2f2f2"/>
<rect x="1276.58" y="2146.8" width="12.07" height="223.83" fill="#f2f2f2"/>
<rect x="1288.65" y="2146.8" width="12.07" height="223.83" fill="#f2f2f2"/>
<rect x="1300.72" y="2146.8" width="12.07" height="223.83" fill="#f2f2f2"/>
<rect x="288" y="2221.41" width="12.32" height="24.87" fill="#000"/>
<rect x="288" y="2271.15" width="12.32" height="24.87" fill="#000"/>
<rect x="288" y="2345.76" width="12.32" height="24.87" fill="#000"/>
<rect x="300.07" y="2271.15" width="12.32" height="24.87" fill="#000"/>
<rect x="312.14" y="2221.41" width="12.32" height="24.87" fill="#000"/>
<rect x="336.28" y="2221.41" width="12.32" height="24.87" fill="#000"/>
<rect x="348.35" y="2271.15" width="12.32" height="24.87" fill="#000"/>
<rect x="348.35" y="2345.76" width="12.32" height="24.87" fill="#000"/>
<rect x="408.7" y="2221.41" width="12.32" height="24.87" fill="#000"/>
<rect x="420.77" y="2345.76" width="12.32" height="24.87" fill="#000"/>
<rect x="432.84" y="2221.41" width="12.32" height="24.87" fill="#000"/>
<rect x="432.84" y="2271.15" width="12.32" height="24.87" fill="#000"/>
<rect x="444.91" y="2345.76" width="12.32" height="24.87" fill="#000"/>
<rect x="456.98" y="2271.15" width="12.32" height="24.87" fill="#000"/>
<rect x="469.05" y="2345.76" width="12.32" height="24.87" fill="#000"/>
<rect x="517.33" y="2271.15" width="12.07" height="24.87" fill="#000"/>
<rect x="548.48" y="2221.41" width="12.32" height="24.87" fill="#000"/>
<rect x="560.55" y="2221.41" width="12.32" height="24.87" fill="#000"/>
<rect x="572.62" y="2221.41" width="12.32" height="24.87" fill="#000"/>
<rect x="596.76" y="2221.41" width="12.32" height="24.87" fill="#000"/>
<rect x="608.83" y="2221.41" width="12.07" height="24.87" fill="#000"/>
<rect x="608.83" y="2345.76" width="12.07" height="24.87" fill="#000"/>
<rect x="664.12" y="2221.41" width="12.32" height="24.87" fill="#000"/>
<rect x="676.19" y="2221.41" width="12.32" height="24.87" fill="#000"/>
<rect x="731.48" y="2221.41" width="12.32" height="24.87" fill="#000"/>
<rect x="767.69" y="2345.76" width="12.32" height="24.87" fill="#000"/>
<rect x="779.76" y="2221.41" width="12.32" height="24.87" fill="#000"/>
<rect x="864.25" y="2221.41" width="12.32" height="24.87" fill="#000"/>
<rect x="876.32" y="2221.41" width="12.32" height="24.87" fill="#000"/>
<rect x="888.39" y="2221.41" width="12.32" height="24.87" fill="#000"/>
<rect x="948.74" y="2221.41" width="12.32" height="24.87" fill="#000"/>
<rect x="997.02" y="2221.41" width="12.32" height="24.87" fill="#000"/>
<rect x="1052.31" y="2296.02" width="12.32" height="24.87" fill="#000"/>
<rect x="1052.31" y="2345.76" width="12.32" height="24.87" fill="#000"/>
<rect x="1064.38" y="2221.41" width="12.32" height="24.87" fill="#000"/>
<rect x="1064.38" y="2296.02" width="12.32" height="24.87" fill="#000"/>
<rect x="1076.45" y="2221.41" width="12.32" height="24.87" fill="#000"/>
<rect x="1076.45" y="2296.02" width="12.32" height="24.87" fill="#000"/>
<rect x="1088.52" y="2296.02" width="12.32" height="49.74" fill="#000"/>
<rect x="1100.59" y="2221.41" width="12.32" height="24.87" fill="#000"/>
<rect x="1100.59" y="2296.02" width="12.32" height="24.87" fill="#000"/>
<rect x="1112.66" y="2221.41" width="12.32" height="24.87" fill="#000"/>
<rect x="1112.66" y="2296.02" width="12.32" height="24.87" fill="#000"/>
<rect x="1124.73" y="2296.02" width="12.32" height="24.87" fill="#000"/>
<rect x="1136.8" y="2221.41" width="12.07" height="24.87" fill="#000"/>
<rect x="1136.8" y="2296.02" width="12.07" height="24.87" fill="#000"/>
<rect x="1167.95" y="2221.41" width="12.32" height="24.87" fill="#000"/>
<rect x="1167.95" y="2296.02" width="12.32" height="24.87" fill="#000"/>
<rect x="1180.02" y="2221.41" width="12.32" height="24.87" fill="#000"/>
<rect x="1180.02" y="2296.02" width="12.32" height="24.87" fill="#000"/>
<rect x="1192.09" y="2221.41" width="12.32" height="24.87" fill="#000"/>
<rect x="1192.09" y="2296.02" width="12.32" height="24.87" fill="#000"/>
<rect x="1204.16" y="2221.41" width="12.32" height="24.87" fill="#000"/>
<rect x="1204.16" y="2296.02" width="12.32" height="24.87" fill="#000"/>
<rect x="1216.23" y="2221.41" width="12.32" height="24.87" fill="#000"/>
<rect x="1216.23" y="2271.15" width="12.32" height="24.87" fill="#000"/>
<rect x="1228.3" y="2146.8" width="12.32" height="24.87" fill="#000"/>
<rect x="1228.3" y="2221.41" width="12.32" height="24.87" fill="#000"/>
<rect x="1228.3" y="2271.15" width="12.32" height="49.74" fill="#000"/>
<rect x="1240.37" y="2146.8" width="12.32" height="24.87" fill="#000"/>
<rect x="1240.37" y="2221.41" width="12.32" height="24.87" fill="#000"/>
<rect x="1240.37" y="2271.15" width="12.32" height="49.74" fill="#000"/>
<rect x="1252.44" y="2221.41" width="12.32" height="24.87" fill="#000"/>
<rect x="1252.44" y="2296.02" width="12.32" height="24.87" fill="#000"/>
<rect x="1264.51" y="2221.41" width="12.32" height="24.87" fill="#000"/>
<rect x="1264.51" y="2296.02" width="12.32" height="24.87" fill="#000"/>
<rect x="1276.58" y="2146.8" width="12.32" height="24.87" fill="#000"/>
<rect x="1276.58" y="2221.41" width="12.32" height="24.87" fill="#000"/>
<rect x="1276.58" y="2296.02" width="12.32" height="24.87" fill="#000"/>
<rect x="1276.58" y="2345.76" width="12.32" height="24.87" fill="#000"/>
<rect x="1288.65" y="2221.41" width="12.32" height="24.87" fill="#000"/>
<rect x="1288.65" y="2296.02" width="12.32" height="24.87" fill="#000"/>
<rect x="1300.72" y="2296.02" width="12.07" height="49.74" fill="#000"/>
<text transform="translate(166.5 2175) scale(1 1.038)">MEF2A</text>
<text transform="translate(166.5 2199.9) scale(1 1.038)">MEF2B</text>
<text transform="translate(166.5 2224.8) scale(1 1.038)">MEF2C</text>
<text transform="translate(166.5 2249.7) scale(1 1.038)">MEF2D</text>
<text transform="translate(166.5 2274.6) scale(1 1.038)">MYF5</text>
<text transform="translate(166.5 2299.5) scale(1 1.038)">MYF6</text>
<text transform="translate(166.5 2324.4) scale(1 1.038)">MYOD1</text>
<text transform="translate(166.5 2349.3) scale(1 1.038)">MYOG</text>
<text transform="translate(166.5 2374.2) scale(1 1.038)">PAX7</text>
<rect x="91.8" y="2148.7" width="65.1" height="224.1" fill="none" stroke="#000" stroke-width="3.6"/>
<text transform="translate(135 2260.75) rotate(-90)" text-anchor="middle">Muscle</text>
</g>
<g class="legend-bottom">
<rect x="92.4" y="2394.5" width="49.6" height="34" fill="#0000ff"/>
<rect x="92.4" y="2428.1" width="49.6" height="34" fill="#add8e6"/>
<rect x="92.4" y="2461.9" width="49.6" height="34" fill="#ff0000"/>
<rect x="581.4" y="2394.5" width="49.6" height="34" fill="#00ff00"/>
<rect x="581.4" y="2428.1" width="49.6" height="34" fill="#bf3eff"/>
<rect x="581.4" y="2461.9" width="49.6" height="34" fill="#ee82ee"/>
<text x="148.7" y="2424.8">Ewing sarcoma (Cell lines)</text>
<text x="148.7" y="2458.2">Ewing sarcoma (Primary tumors)</text>
<text x="148.7" y="2491.7"><tspan font-style="italic">EWSR1::FLI1</tspan>-KD</text>
<text x="639.2" y="2426">Neuroblastoma</text>
<text x="639.2" y="2459.5">Rhabdomyosarcoma (Cell lines)</text>
<text x="639.2" y="2493">Rhabdomyosarcoma (Primary tumors)</text>
<rect x="1067.3" y="2395.4" width="46.8" height="32.8" fill="#000"/>
<rect x="1067.3" y="2428.2" width="46.8" height="31.9" fill="#f2f2f2"/>
<text x="1117" y="2419">Present in CRC</text>
<text x="1118.7" y="2452">Absent in CRC</text>
</g>
<g class="panel-E">
<text transform="translate(1352 1000.4) scale(1 1.038)" style="font-size:40px" font-weight="bold">E</text>
<rect x="1404.6" y="1162.3" width="216.3" height="79.4" rx="13.5" ry="13.5" fill="#fff" stroke="#000" stroke-width="3.7" stroke-dasharray="13.1 10" stroke-dashoffset="5.2"/>
<text x="1512.5" y="1212.5" text-anchor="middle">Translocation</text>
<rect x="1695" y="1162" width="187.7" height="79.5" fill="#000"/>
<text transform="translate(1788.8 1212.5) scale(1 1.038)" text-anchor="middle" fill="#fff">EWSR1::ETS</text>
<path d="M1623.5 1201.7H1680" fill="none" stroke="#000" stroke-width="1.7"/>
<polygon points="1695,1201.7 1676.2,1191.9 1676.2,1211.5" fill="#000"/>
<path d="M1789 1241.5V1359H1356.6V1748.8H1408" fill="none" stroke="#000" stroke-width="1.7"/>
<polygon points="1422.7,1748.8 1403.3,1739.6 1403.3,1758" fill="#000"/>
<path d="M1422.7 1457.6V2033.9" fill="none" stroke="#000" stroke-width="1.7"/>
<path d="M1422.7 1457.6H1456" fill="none" stroke="#000" stroke-width="1.7"/>
<polygon points="1474,1457.6 1454.2,1447.6 1454.2,1467.6" fill="#000"/>
<rect x="1476.8" y="1416.8" width="103.5" height="80.2" fill="#fff" stroke="#000" stroke-width="3.2"/>
<rect x="1535.2" y="1419.7" width="5.3" height="74.4" fill="#000"/>
<rect x="1541.5" y="1419.7" width="5.4" height="74.4" fill="#d9d9d9"/>
<rect x="1547.55" y="1419.7" width="5.4" height="74.4" fill="#ffc000"/>
<rect x="1553.6" y="1419.7" width="5.4" height="74.4" fill="#c00000"/>
<rect x="1559.65" y="1419.7" width="5.4" height="74.4" fill="#548235"/>
<rect x="1565.7" y="1419.7" width="5.4" height="74.4" fill="#00b0f0"/>
<rect x="1571.75" y="1419.7" width="5.4" height="74.4" fill="#7030a0"/>
<text transform="translate(1506 1467.6) scale(1 1.038)" text-anchor="middle">SE</text>
<path d="M1581.8 1457.6H1613" fill="none" stroke="#000" stroke-width="1.7"/>
<polygon points="1631.4,1457.6 1611.8,1447.6 1611.8,1467.6" fill="#000"/>
<rect x="1631.6" y="1417.8" width="130.4" height="79.3" fill="#fff" stroke="#d9d9d9" stroke-width="3.2"/>
<text transform="translate(1697.2 1468.65) scale(1 1.038)" text-anchor="middle">TCF12</text>
<path d="M1761.5 1457.6H1792" fill="none" stroke="#000" stroke-width="1.7"/>
<polygon points="1810.5,1457.6 1791.1,1447.6 1791.1,1467.6" fill="#000"/>
<circle cx="1855.3" cy="1456.3" r="41.7" fill="#d9d9d9"/>
<path d="M1896 1457.6H1947.2" fill="none" stroke="#000" stroke-width="1.7"/>
<path d="M1422.7 1572.2H1456" fill="none" stroke="#000" stroke-width="1.7"/>
<polygon points="1474,1572.2 1454.2,1562.2 1454.2,1582.2" fill="#000"/>
<rect x="1476.8" y="1532.1" width="103.5" height="79" fill="#fff" stroke="#000" stroke-width="3.2"/>
<rect x="1535.2" y="1535" width="5.3" height="73.2" fill="#000"/>
<rect x="1541.5" y="1535" width="5.4" height="73.2" fill="#d9d9d9"/>
<rect x="1547.55" y="1535" width="5.4" height="73.2" fill="#ffc000"/>
<rect x="1553.6" y="1535" width="5.4" height="73.2" fill="#c00000"/>
<rect x="1559.65" y="1535" width="5.4" height="73.2" fill="#548235"/>
<rect x="1565.7" y="1535" width="5.4" height="73.2" fill="#00b0f0"/>
<rect x="1571.75" y="1535" width="5.4" height="73.2" fill="#7030a0"/>
<text transform="translate(1506 1582.3) scale(1 1.038)" text-anchor="middle">SE</text>
<path d="M1581.8 1572.2H1613" fill="none" stroke="#000" stroke-width="1.7"/>
<polygon points="1631.4,1572.2 1611.8,1562.2 1611.8,1582.2" fill="#000"/>
<rect x="1631.6" y="1533.7" width="130.4" height="79" fill="#fff" stroke="#ffc000" stroke-width="3.2"/>
<text transform="translate(1697.2 1584.4) scale(1 1.038)" text-anchor="middle">SOX6</text>
<path d="M1761.5 1572.2H1792" fill="none" stroke="#000" stroke-width="1.7"/>
<polygon points="1810.5,1572.2 1791.1,1562.2 1791.1,1582.2" fill="#000"/>
<circle cx="1855.3" cy="1575.1" r="41.7" fill="#ffc000"/>
<path d="M1896 1572.2H1947.2" fill="none" stroke="#000" stroke-width="1.7"/>
<path d="M1422.7 1687.3H1456" fill="none" stroke="#000" stroke-width="1.7"/>
<polygon points="1474,1687.3 1454.2,1677.3 1454.2,1697.3" fill="#000"/>
<rect x="1476.8" y="1646.5" width="103.5" height="79.7" fill="#fff" stroke="#000" stroke-width="3.2"/>
<rect x="1535.2" y="1649.4" width="5.3" height="73.9" fill="#000"/>
<rect x="1541.5" y="1649.4" width="5.4" height="73.9" fill="#d9d9d9"/>
<rect x="1547.55" y="1649.4" width="5.4" height="73.9" fill="#ffc000"/>
<rect x="1553.6" y="1649.4" width="5.4" height="73.9" fill="#c00000"/>
<rect x="1559.65" y="1649.4" width="5.4" height="73.9" fill="#548235"/>
<rect x="1565.7" y="1649.4" width="5.4" height="73.9" fill="#00b0f0"/>
<rect x="1571.75" y="1649.4" width="5.4" height="73.9" fill="#7030a0"/>
<text transform="translate(1506 1697.05) scale(1 1.038)" text-anchor="middle">SE</text>
<path d="M1581.8 1687.3H1613" fill="none" stroke="#000" stroke-width="1.7"/>
<polygon points="1631.4,1687.3 1611.8,1677.3 1611.8,1697.3" fill="#000"/>
<rect x="1631.6" y="1648.4" width="130.4" height="79.7" fill="#fff" stroke="#c00000" stroke-width="3.2"/>
<text transform="translate(1697.2 1699.45) scale(1 1.038)" text-anchor="middle">POU3F1</text>
<path d="M1761.5 1687.3H1792" fill="none" stroke="#000" stroke-width="1.7"/>
<polygon points="1810.5,1687.3 1791.1,1677.3 1791.1,1697.3" fill="#000"/>
<circle cx="1855.3" cy="1689.9" r="42" fill="#843c0c"/>
<path d="M1896.3 1687.3H1947.2" fill="none" stroke="#000" stroke-width="1.7"/>
<path d="M1422.7 1803.2H1456" fill="none" stroke="#000" stroke-width="1.7"/>
<polygon points="1474,1803.2 1454.2,1793.2 1454.2,1813.2" fill="#000"/>
<rect x="1476.8" y="1762.7" width="103.5" height="79.4" fill="#fff" stroke="#000" stroke-width="3.2"/>
<rect x="1535.2" y="1765.6" width="5.3" height="73.6" fill="#000"/>
<rect x="1541.5" y="1765.6" width="5.4" height="73.6" fill="#d9d9d9"/>
<rect x="1547.55" y="1765.6" width="5.4" height="73.6" fill="#ffc000"/>
<rect x="1553.6" y="1765.6" width="5.4" height="73.6" fill="#c00000"/>
<rect x="1559.65" y="1765.6" width="5.4" height="73.6" fill="#548235"/>
<rect x="1565.7" y="1765.6" width="5.4" height="73.6" fill="#00b0f0"/>
<rect x="1571.75" y="1765.6" width="5.4" height="73.6" fill="#7030a0"/>
<text transform="translate(1506 1813.1) scale(1 1.038)" text-anchor="middle">SE</text>
<path d="M1581.8 1803.2H1613" fill="none" stroke="#000" stroke-width="1.7"/>
<polygon points="1631.4,1803.2 1611.8,1793.2 1611.8,1813.2" fill="#000"/>
<rect x="1631.6" y="1763.7" width="130.4" height="79.3" fill="#fff" stroke="#548235" stroke-width="3.2"/>
<text transform="translate(1697.2 1814.55) scale(1 1.038)" text-anchor="middle">POU3F2</text>
<path d="M1761.5 1803.2H1792" fill="none" stroke="#000" stroke-width="1.7"/>
<polygon points="1810.5,1803.2 1791.1,1793.2 1791.1,1813.2" fill="#000"/>
<circle cx="1855.3" cy="1802.2" r="42" fill="#548235"/>
<path d="M1896.3 1803.2H1947.2" fill="none" stroke="#000" stroke-width="1.7"/>
<path d="M1422.7 1918.3H1456" fill="none" stroke="#000" stroke-width="1.7"/>
<polygon points="1474,1918.3 1454.2,1908.3 1454.2,1928.3" fill="#000"/>
<rect x="1476.8" y="1877.1" width="103.5" height="79.4" fill="#fff" stroke="#000" stroke-width="3.2"/>
<rect x="1535.2" y="1880" width="5.3" height="73.6" fill="#000"/>
<rect x="1541.5" y="1880" width="5.4" height="73.6" fill="#d9d9d9"/>
<rect x="1547.55" y="1880" width="5.4" height="73.6" fill="#ffc000"/>
<rect x="1553.6" y="1880" width="5.4" height="73.6" fill="#c00000"/>
<rect x="1559.65" y="1880" width="5.4" height="73.6" fill="#548235"/>
<rect x="1565.7" y="1880" width="5.4" height="73.6" fill="#00b0f0"/>
<rect x="1571.75" y="1880" width="5.4" height="73.6" fill="#7030a0"/>
<text transform="translate(1506 1927.5) scale(1 1.038)" text-anchor="middle">SE</text>
<path d="M1581.8 1918.3H1613" fill="none" stroke="#000" stroke-width="1.7"/>
<polygon points="1631.4,1918.3 1611.8,1908.3 1611.8,1928.3" fill="#000"/>
<rect x="1631.6" y="1879.4" width="130.4" height="78.7" fill="#fff" stroke="#00b0f0" stroke-width="3.2"/>
<text transform="translate(1697.2 1929.95) scale(1 1.038)" text-anchor="middle">NKX2-2</text>
<path d="M1761.5 1918.3H1792" fill="none" stroke="#000" stroke-width="1.7"/>
<polygon points="1810.5,1918.3 1791.1,1908.3 1791.1,1928.3" fill="#000"/>
<circle cx="1855.3" cy="1920.5" r="42" fill="#00b0f0"/>
<path d="M1896.3 1918.3H1947.2" fill="none" stroke="#000" stroke-width="1.7"/>
<path d="M1422.7 2033.9H1456" fill="none" stroke="#000" stroke-width="1.7"/>
<polygon points="1474,2033.9 1454.2,2023.9 1454.2,2043.9" fill="#000"/>
<rect x="1476.8" y="1992.7" width="103.5" height="79.4" fill="#fff" stroke="#000" stroke-width="3.2"/>
<rect x="1535.2" y="1995.6" width="5.3" height="73.6" fill="#000"/>
<rect x="1541.5" y="1995.6" width="5.4" height="73.6" fill="#d9d9d9"/>
<rect x="1547.55" y="1995.6" width="5.4" height="73.6" fill="#ffc000"/>
<rect x="1553.6" y="1995.6" width="5.4" height="73.6" fill="#c00000"/>
<rect x="1559.65" y="1995.6" width="5.4" height="73.6" fill="#548235"/>
<rect x="1565.7" y="1995.6" width="5.4" height="73.6" fill="#00b0f0"/>
<rect x="1571.75" y="1995.6" width="5.4" height="73.6" fill="#7030a0"/>
<text transform="translate(1506 2043.1) scale(1 1.038)" text-anchor="middle">SE</text>
<path d="M1581.8 2033.9H1613" fill="none" stroke="#000" stroke-width="1.7"/>
<polygon points="1631.4,2033.9 1611.8,2023.9 1611.8,2043.9" fill="#000"/>
<rect x="1631.6" y="1994.3" width="130.4" height="79.4" fill="#fff" stroke="#7030a0" stroke-width="3.2"/>
<text transform="translate(1697.2 2045.2) scale(1 1.038)" text-anchor="middle">IKZF2</text>
<path d="M1761.5 2033.9H1792" fill="none" stroke="#000" stroke-width="1.7"/>
<polygon points="1810.5,2033.9 1791.1,2023.9 1791.1,2043.9" fill="#000"/>
<circle cx="1855.3" cy="2032.6" r="43.7" fill="#7030a0"/>
<path d="M1898 2033.9H1947.2" fill="none" stroke="#000" stroke-width="1.7"/>
<path d="M1947.2 1457.6V2205.4H1421V2170" fill="none" stroke="#000" stroke-width="1.7"/>
<polygon points="1421,2152.5 1411.4,2172 1430.6,2172" fill="#000"/>
<circle cx="1420.3" cy="2104.4" r="48.7" fill="#ff0000"/>
<rect x="1384.1" y="2098.9" width="72.4" height="11.1" fill="#fff"/>
</g>
</svg>
</body>
</html>
